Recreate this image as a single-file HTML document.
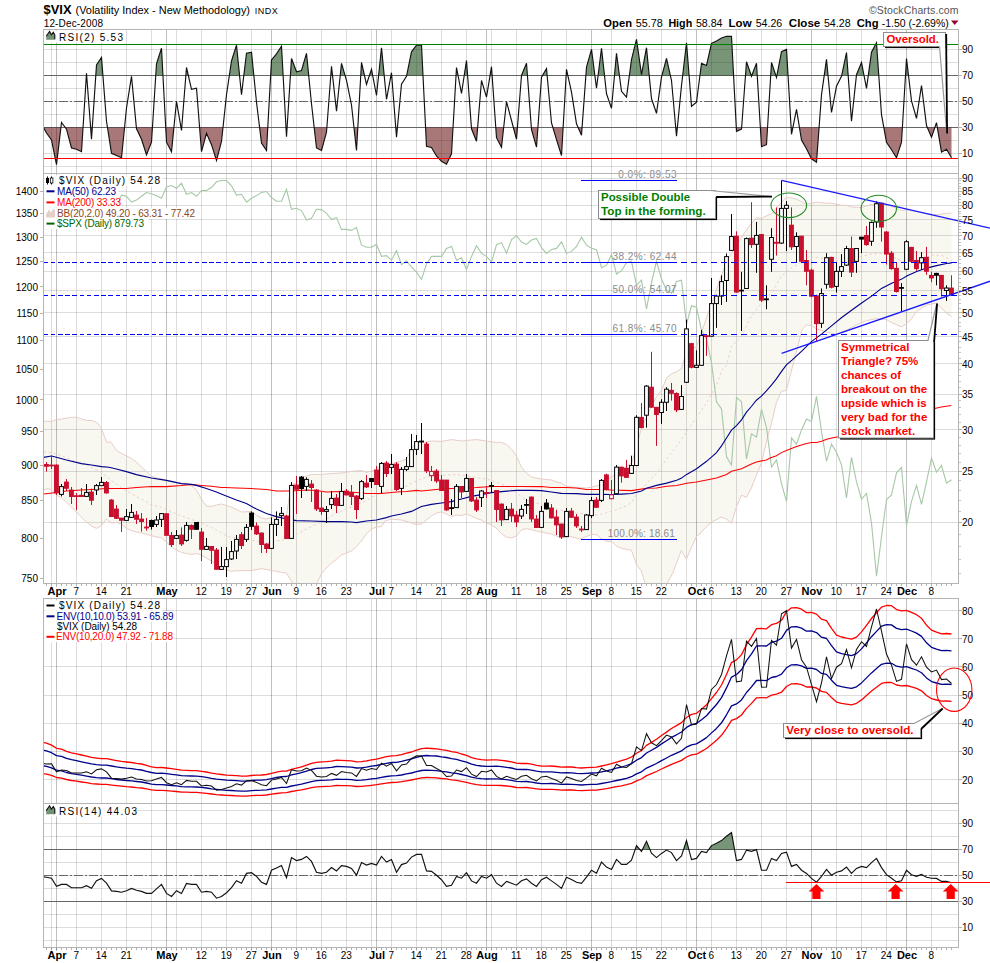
<!DOCTYPE html><html><head><meta charset="utf-8"><title>$VIX</title><style>html,body{margin:0;padding:0;background:#fff}svg{display:block}</style></head><body><svg width="990" height="963" viewBox="0 0 990 963" font-family="Liberation Sans, sans-serif">
<rect width="990" height="963" fill="#fff"/>
<defs>
<clipPath id="c1"><rect x="43.5" y="29.5" width="915.0" height="144.0"/></clipPath>
<clipPath id="c2"><rect x="43.5" y="173.5" width="915.0" height="410.0"/></clipPath>
<clipPath id="c3"><rect x="43.5" y="598.5" width="915.0" height="205.0"/></clipPath>
<clipPath id="c4"><rect x="43.5" y="803.5" width="915.0" height="144.0"/></clipPath>
</defs>
<text x="43.5" y="13.9" font-size="13" font-weight="bold" textLength="28" lengthAdjust="spacingAndGlyphs">$VIX</text>
<text x="75.5" y="13.9" font-size="11" textLength="174.5" lengthAdjust="spacingAndGlyphs">(Volatility Index - New Methodology)</text>
<text x="254.8" y="13.9" font-size="9" textLength="23" lengthAdjust="spacing">INDX</text>
<text x="43.7" y="27" font-size="10" textLength="59.3" lengthAdjust="spacing">12-Dec-2008</text>
<text x="869" y="14" font-size="10.5" fill="#555" textLength="89.5" lengthAdjust="spacing">&#169;StockCharts.com</text>
<text x="603.3" y="27" font-size="11" font-weight="bold" textLength="28.7" lengthAdjust="spacingAndGlyphs">Open</text>
<text x="635.7" y="27" font-size="11"  textLength="27" lengthAdjust="spacingAndGlyphs">55.78</text>
<text x="668.4" y="27" font-size="11" font-weight="bold" textLength="23.8" lengthAdjust="spacingAndGlyphs">High</text>
<text x="695.9" y="27" font-size="11"  textLength="26.6" lengthAdjust="spacingAndGlyphs">58.84</text>
<text x="728.6" y="27" font-size="11" font-weight="bold" textLength="23" lengthAdjust="spacingAndGlyphs">Low</text>
<text x="755.7" y="27" font-size="11"  textLength="26.6" lengthAdjust="spacingAndGlyphs">54.26</text>
<text x="788.8" y="27" font-size="11" font-weight="bold" textLength="31.5" lengthAdjust="spacingAndGlyphs">Close</text>
<text x="823.9" y="27" font-size="11"  textLength="26.7" lengthAdjust="spacingAndGlyphs">54.28</text>
<text x="856.7" y="27" font-size="11" font-weight="bold" textLength="21.8" lengthAdjust="spacingAndGlyphs">Chg</text>
<text x="881.7" y="27" font-size="11"  textLength="67.1" lengthAdjust="spacingAndGlyphs">-1.50 (-2.69%)</text>
<polygon points="951,20.5 958.5,20.5 954.7,25" fill="#990033"/>
<g shape-rendering="crispEdges" stroke-width="1"><line x1="51.5" x2="51.5" y1="29.5" y2="173.5" stroke="rgba(0,0,0,0.135)"/><line x1="76.5" x2="76.5" y1="29.5" y2="173.5" stroke="rgba(0,0,0,0.135)"/><line x1="101.5" x2="101.5" y1="29.5" y2="173.5" stroke="rgba(0,0,0,0.135)"/><line x1="126.5" x2="126.5" y1="29.5" y2="173.5" stroke="rgba(0,0,0,0.135)"/><line x1="151.5" x2="151.5" y1="29.5" y2="173.5" stroke="rgba(0,0,0,0.135)"/><line x1="176.5" x2="176.5" y1="29.5" y2="173.5" stroke="rgba(0,0,0,0.135)"/><line x1="201.5" x2="201.5" y1="29.5" y2="173.5" stroke="rgba(0,0,0,0.135)"/><line x1="226.5" x2="226.5" y1="29.5" y2="173.5" stroke="rgba(0,0,0,0.135)"/><line x1="251.5" x2="251.5" y1="29.5" y2="173.5" stroke="rgba(0,0,0,0.135)"/><line x1="296.5" x2="296.5" y1="29.5" y2="173.5" stroke="rgba(0,0,0,0.135)"/><line x1="321.5" x2="321.5" y1="29.5" y2="173.5" stroke="rgba(0,0,0,0.135)"/><line x1="346.5" x2="346.5" y1="29.5" y2="173.5" stroke="rgba(0,0,0,0.135)"/><line x1="371.5" x2="371.5" y1="29.5" y2="173.5" stroke="rgba(0,0,0,0.135)"/><line x1="391.5" x2="391.5" y1="29.5" y2="173.5" stroke="rgba(0,0,0,0.135)"/><line x1="416.5" x2="416.5" y1="29.5" y2="173.5" stroke="rgba(0,0,0,0.135)"/><line x1="441.5" x2="441.5" y1="29.5" y2="173.5" stroke="rgba(0,0,0,0.135)"/><line x1="466.5" x2="466.5" y1="29.5" y2="173.5" stroke="rgba(0,0,0,0.135)"/><line x1="491.5" x2="491.5" y1="29.5" y2="173.5" stroke="rgba(0,0,0,0.135)"/><line x1="516.5" x2="516.5" y1="29.5" y2="173.5" stroke="rgba(0,0,0,0.135)"/><line x1="541.5" x2="541.5" y1="29.5" y2="173.5" stroke="rgba(0,0,0,0.135)"/><line x1="566.5" x2="566.5" y1="29.5" y2="173.5" stroke="rgba(0,0,0,0.135)"/><line x1="611.5" x2="611.5" y1="29.5" y2="173.5" stroke="rgba(0,0,0,0.135)"/><line x1="636.5" x2="636.5" y1="29.5" y2="173.5" stroke="rgba(0,0,0,0.135)"/><line x1="661.5" x2="661.5" y1="29.5" y2="173.5" stroke="rgba(0,0,0,0.135)"/><line x1="686.5" x2="686.5" y1="29.5" y2="173.5" stroke="rgba(0,0,0,0.135)"/><line x1="711.5" x2="711.5" y1="29.5" y2="173.5" stroke="rgba(0,0,0,0.135)"/><line x1="736.5" x2="736.5" y1="29.5" y2="173.5" stroke="rgba(0,0,0,0.135)"/><line x1="761.5" x2="761.5" y1="29.5" y2="173.5" stroke="rgba(0,0,0,0.135)"/><line x1="786.5" x2="786.5" y1="29.5" y2="173.5" stroke="rgba(0,0,0,0.135)"/><line x1="836.5" x2="836.5" y1="29.5" y2="173.5" stroke="rgba(0,0,0,0.135)"/><line x1="861.5" x2="861.5" y1="29.5" y2="173.5" stroke="rgba(0,0,0,0.135)"/><line x1="886.5" x2="886.5" y1="29.5" y2="173.5" stroke="rgba(0,0,0,0.135)"/><line x1="931.5" x2="931.5" y1="29.5" y2="173.5" stroke="rgba(0,0,0,0.135)"/><line x1="56.5" x2="56.5" y1="29.5" y2="173.5" stroke="rgba(0,0,0,0.25)"/><line x1="166.5" x2="166.5" y1="29.5" y2="173.5" stroke="rgba(0,0,0,0.25)"/><line x1="271.5" x2="271.5" y1="29.5" y2="173.5" stroke="rgba(0,0,0,0.25)"/><line x1="376.5" x2="376.5" y1="29.5" y2="173.5" stroke="rgba(0,0,0,0.25)"/><line x1="486.5" x2="486.5" y1="29.5" y2="173.5" stroke="rgba(0,0,0,0.25)"/><line x1="591.5" x2="591.5" y1="29.5" y2="173.5" stroke="rgba(0,0,0,0.25)"/><line x1="696.5" x2="696.5" y1="29.5" y2="173.5" stroke="rgba(0,0,0,0.25)"/><line x1="811.5" x2="811.5" y1="29.5" y2="173.5" stroke="rgba(0,0,0,0.25)"/><line x1="906.5" x2="906.5" y1="29.5" y2="173.5" stroke="rgba(0,0,0,0.25)"/></g>
<g shape-rendering="crispEdges" stroke-width="1" stroke="rgba(0,0,0,0.135)"><line x1="43.5" x2="958.5" y1="166.5" y2="166.5"/><line x1="43.5" x2="958.5" y1="153.5" y2="153.5"/><line x1="43.5" x2="958.5" y1="140.5" y2="140.5"/><line x1="43.5" x2="958.5" y1="127.5" y2="127.5"/><line x1="43.5" x2="958.5" y1="114.5" y2="114.5"/><line x1="43.5" x2="958.5" y1="101.5" y2="101.5"/><line x1="43.5" x2="958.5" y1="88.5" y2="88.5"/><line x1="43.5" x2="958.5" y1="75.5" y2="75.5"/><line x1="43.5" x2="958.5" y1="62.5" y2="62.5"/><line x1="43.5" x2="958.5" y1="49.5" y2="49.5"/></g>
<g shape-rendering="crispEdges" stroke-width="1" stroke="#666"><line x1="43.5" x2="958.5" y1="75.5" y2="75.5"/><line x1="43.5" x2="958.5" y1="127.5" y2="127.5"/></g>
<line x1="43.5" x2="958.5" y1="101.5" y2="101.5" stroke="#666" stroke-dasharray="9 2 2 2" shape-rendering="crispEdges"/>
<g clip-path="url(#c1)"><path d="M86.4 75.5 L86.5 73.3 L86.7 75.5Z M95.8 75.5 L96.5 65 L101.5 57.5 L102.9 75.5Z M155.8 75.5 L156.5 63.8 L161.5 48.3 L162.9 75.5Z M185.9 75.5 L186.5 67.5 L188.3 75.5Z M229.3 75.5 L231.5 61 L236.5 45.2 L239.6 75.5Z M243.8 75.5 L246.5 53.3 L251.5 52.3 L253.8 75.5Z M270.6 75.5 L271.5 60 L276.5 53.8 L281.5 46.3 L283.1 75.5Z M290.4 75.5 L291.5 58.5 L296.5 71.7 L301.5 70.5 L306.5 53.3 L308.7 75.5Z M330.8 75.5 L331.5 66.3 L332.5 75.5Z M340.2 75.5 L341.5 63.3 L345 75.5Z M360.8 75.5 L361.5 62.5 L364.5 75.5Z M369.4 75.5 L371.5 69.3 L372.7 75.5Z M378.6 75.5 L381.5 47.7 L384.2 75.5Z M391 75.5 L391.5 72.7 L391.7 75.5Z M406.7 75.5 L411.5 51.8 L416.5 45.2 L421.5 45.2 L423 75.5Z M456 75.5 L456.5 67.5 L458 75.5Z M464.2 75.5 L466.5 60.5 L467.6 75.5Z M490.1 75.5 L491.5 66.7 L492.1 75.5Z M521.5 75.5 L526.5 63.3 L527.4 75.5Z M542.5 75.5 L546.5 68.5 L547.1 75.5Z M566.1 75.5 L566.5 69.3 L567.9 75.5Z M585.9 75.5 L586.5 67.2 L591.5 49.3 L594.9 75.5Z M598.1 75.5 L601.5 48.3 L604.5 75.5Z M614.5 75.5 L616.5 53.3 L619.4 75.5Z M629.4 75.5 L631.5 59.7 L636.5 39.3 L641.5 74.7 L646.5 47.7 L649.2 75.5Z M661.9 75.5 L666.5 58.5 L670.4 75.5Z M682.7 75.5 L686.5 42.7 L689.1 75.5Z M699.9 75.5 L701.5 63.3 L706.5 65.5 L711.5 43.3 L716.5 41 L721.5 38 L726.5 36.3 L731.5 36.3 L733.6 75.5Z M745.5 75.5 L746.5 61.7 L751.2 75.5Z M751.8 75.5 L756.5 63.3 L757.2 75.5Z M770.7 75.5 L771.5 62.5 L775.8 75.5Z M776.9 75.5 L781.5 51.7 L786.5 49.3 L788 75.5Z M824.2 75.5 L826.5 59.3 L828 75.5Z M841.7 75.5 L846.5 52.5 L848.2 75.5Z M856.4 75.5 L856.5 74.7 L861.5 62.5 L864 75.5Z M868.3 75.5 L871.5 52.2 L876.5 42.7 L878.8 75.5Z M905.5 75.5 L906.5 58.5 L908.5 75.5Z " fill="rgba(0,55,0,0.53)"/></g>
<g clip-path="url(#c1)"><path d="M43.5 127.5 L46.5 133 L51.5 140 L56.5 164.7 L60.9 127.5Z M65.2 127.5 L66.5 129.2 L71.5 148 L76.5 149.3 L81.5 151.7 L83 127.5Z M90.6 127.5 L91.5 139.3 L92.3 127.5Z M107.5 127.5 L111.5 153.3 L116.5 155.5 L121.5 157.7 L124.5 127.5Z M136.4 127.5 L136.5 128.8 L141.5 139.3 L146.5 154.7 L151.5 142.2 L152.4 127.5Z M165.7 127.5 L166.5 142.2 L171.5 151.7 L173.9 127.5Z M181 127.5 L181.5 130.5 L181.7 127.5Z M199.6 127.5 L201.5 151.7 L206.5 133.3 L211.5 144.7 L216.5 160.5 L221.5 141.3 L223 127.5Z M259.6 127.5 L261.5 143 L266.5 150.5 L267.8 127.5Z M286 127.5 L286.5 136.7 L287.1 127.5Z M314.2 127.5 L316.5 148 L321.5 150.5 L326.5 132.2 L326.9 127.5Z M354 127.5 L356.5 150.5 L357.8 127.5Z M395.8 127.5 L396.5 137.2 L397.4 127.5Z M425.6 127.5 L426.5 146.3 L431.5 147.5 L436.5 156 L441.5 161.3 L446.5 164.3 L451.5 153.8 L453 127.5Z M471.4 127.5 L471.5 128.8 L476.5 141.3 L477.6 127.5Z M495.8 127.5 L496.5 137.7 L501.5 147.2 L503.7 127.5Z M513.4 127.5 L516.5 139.3 L517.4 127.5Z M531.3 127.5 L531.5 129.7 L536.5 147.2 L537.9 127.5Z M552.9 127.5 L556.5 139.7 L561.5 155.5 L563.1 127.5Z M578.1 127.5 L581.5 135.2 L582.1 127.5Z M675.7 127.5 L676.5 136.3 L677.4 127.5Z M736.3 127.5 L736.5 131.3 L741.5 129.2 L741.6 127.5Z M760.4 127.5 L761.5 146.7 L766.5 144.7 L767.5 127.5Z M791.1 127.5 L791.5 134.3 L792.9 127.5Z M799.5 127.5 L801.5 140 L806.5 148.8 L811.5 158.8 L816.5 162.2 L819.1 127.5Z M883.8 127.5 L886.5 142.2 L891.5 149.7 L896.5 157.7 L901.5 142.2 L902.4 127.5Z M927.4 127.5 L931.5 137.2 L934.8 127.5Z M937.3 127.5 L941.5 152.2 L946.5 149.3 L951.5 157.7 L951.5 127.5Z " fill="rgba(90,0,0,0.53)"/></g>
<g clip-path="url(#c1)"><polyline points="43.5,127.5 46.5,133 51.5,140 56.5,164.7 61.5,122.5 66.5,129.2 71.5,148 76.5,149.3 81.5,151.7 86.5,73.3 91.5,139.3 96.5,65 101.5,57.5 106.5,121.3 111.5,153.3 116.5,155.5 121.5,157.7 126.5,108 131.5,76.3 136.5,128.8 141.5,139.3 146.5,154.7 151.5,142.2 156.5,63.8 161.5,48.3 166.5,142.2 171.5,151.7 176.5,101.3 181.5,130.5 186.5,67.5 191.5,89.3 196.5,88.3 201.5,151.7 206.5,133.3 211.5,144.7 216.5,160.5 221.5,141.3 226.5,94.7 231.5,61 236.5,45.2 241.5,94.7 246.5,53.3 251.5,52.3 256.5,102.2 261.5,143 266.5,150.5 271.5,60 276.5,53.8 281.5,46.3 286.5,136.7 291.5,58.5 296.5,71.7 301.5,70.5 306.5,53.3 311.5,103.8 316.5,148 321.5,150.5 326.5,132.2 331.5,66.3 336.5,111.3 341.5,63.3 346.5,80.5 351.5,105 356.5,150.5 361.5,62.5 366.5,84.3 371.5,69.3 376.5,95.5 381.5,47.7 386.5,99.3 391.5,72.7 396.5,137.2 401.5,84.3 406.5,76.3 411.5,51.8 416.5,45.2 421.5,45.2 426.5,146.3 431.5,147.5 436.5,156 441.5,161.3 446.5,164.3 451.5,153.8 456.5,67.5 461.5,93.3 466.5,60.5 471.5,128.8 476.5,141.3 481.5,80.5 486.5,97.2 491.5,66.7 496.5,137.7 501.5,147.2 506.5,101.7 511.5,120.5 516.5,139.3 521.5,75.5 526.5,63.3 531.5,129.7 536.5,147.2 541.5,77.2 546.5,68.5 551.5,123 556.5,139.7 561.5,155.5 566.5,69.3 571.5,92.2 576.5,123.8 581.5,135.2 586.5,67.2 591.5,49.3 596.5,88.3 601.5,48.3 606.5,93.8 611.5,108.3 616.5,53.3 621.5,91.3 626.5,97.2 631.5,59.7 636.5,39.3 641.5,74.7 646.5,47.7 651.5,98.8 656.5,113.3 661.5,77.2 666.5,58.5 671.5,80.5 676.5,136.3 681.5,85.5 686.5,42.7 691.5,106.3 696.5,102.2 701.5,63.3 706.5,65.5 711.5,43.3 716.5,41 721.5,38 726.5,36.3 731.5,36.3 736.5,131.3 741.5,129.2 746.5,61.7 751.5,76.3 756.5,63.3 761.5,146.7 766.5,144.7 771.5,62.5 776.5,77.5 781.5,51.7 786.5,49.3 791.5,134.3 796.5,109.3 801.5,140 806.5,148.8 811.5,158.8 816.5,162.2 821.5,94.7 826.5,59.3 831.5,112.5 836.5,86.3 841.5,76.3 846.5,52.5 851.5,121.3 856.5,74.7 861.5,62.5 866.5,88.3 871.5,52.2 876.5,42.7 881.5,114.7 886.5,142.2 891.5,149.7 896.5,157.7 901.5,142.2 906.5,58.5 911.5,100.8 916.5,118.3 921.5,85.5 926.5,125.5 931.5,137.2 936.5,122.7 941.5,152.2 946.5,149.3 951.5,157.7" fill="none" stroke="#111" stroke-width="1.15" stroke-linejoin="miter"/></g>
<line x1="43.5" x2="958.5" y1="44.5" y2="44.5" stroke="#008000" stroke-width="1" shape-rendering="crispEdges"/>
<line x1="43.5" x2="958.5" y1="158.5" y2="158.5" stroke="#ff0000" stroke-width="1" shape-rendering="crispEdges"/>
<rect x="43.5" y="29.5" width="915.0" height="144.0" fill="none" stroke="#b4b4b4" stroke-width="1" shape-rendering="crispEdges"/>
<line x1="958.5" x2="961.5" y1="49.5" y2="49.5" stroke="#b4b4b4" shape-rendering="crispEdges"/>
<text x="962" y="53.3" font-size="10" fill="#000">90</text>
<line x1="958.5" x2="961.5" y1="75.5" y2="75.5" stroke="#b4b4b4" shape-rendering="crispEdges"/>
<text x="962" y="79.2" font-size="10" fill="#000">70</text>
<line x1="958.5" x2="961.5" y1="101.5" y2="101.5" stroke="#b4b4b4" shape-rendering="crispEdges"/>
<text x="962" y="105" font-size="10" fill="#000">50</text>
<line x1="958.5" x2="961.5" y1="127.5" y2="127.5" stroke="#b4b4b4" shape-rendering="crispEdges"/>
<text x="962" y="131.1" font-size="10" fill="#000">30</text>
<line x1="958.5" x2="961.5" y1="153.5" y2="153.5" stroke="#b4b4b4" shape-rendering="crispEdges"/>
<text x="962" y="156.9" font-size="10" fill="#000">10</text>
<rect x="44.5" y="30.5" width="80" height="12" fill="#fff"/>
<path d="M46.2 39.8 l0 -3.6 l3.4 -4.8 l1.7 3.4 l2 -2.6 l1.5 2.6 l0 5z" fill="rgba(0,55,0,0.55)"/><path d="M46.2 36.199999999999996 l3.4 -4.8 l1.7 3.4 l2 -2.6 l1.5 2.6 l0 4.5" fill="none" stroke="#111" stroke-width="1.1"/>
<text x="59" y="40.5" font-size="10" textLength="64" lengthAdjust="spacing">RSI(2) 5.53</text>
<g clip-path="url(#c2)"><polygon points="43.6,421.1 51.1,421.5 56.6,419.5 61.6,419.1 66.7,418.1 71.7,417.3 76.8,417.3 81.8,419.1 86.9,420.5 91.9,420.5 97,422.5 101,427.6 106.7,442.1 111.1,442.3 116.4,450.4 121.2,453.4 126.5,455.9 131.3,458.5 136.4,461.9 141.4,467 146.5,471.4 151.1,476.1 156.2,477.7 165.3,479.7 176.4,482.4 186.4,484 191.4,485.6 196.4,490 201.4,499 206.4,506 211.4,506.4 216.4,505 221.4,504 225,505 231.4,507 241.4,512 251.4,511.4 256.4,515 261.4,518 266.4,519 271.4,517.4 276.4,516 281.4,516 286.4,516 291,485 296.4,483 301.4,478 311.4,474.4 321.4,474.4 331.4,473.6 341.4,473 351.4,471.4 361.4,470.6 366.4,472.4 371.4,471 376.4,469.4 381.4,464 391.4,463.6 401.4,461 406.4,459 411.4,449 416.4,442 424,442.4 431.4,441 441.4,441.4 451.4,439.6 461.4,441 471.4,440 476.4,439.6 486.4,441 496.4,442.4 501.4,442.4 506.4,444.4 511.4,449 516.4,456 521.4,467 526.4,473 531.4,477 541.4,479 551.4,480 556.4,482 561.4,483 566.4,486.4 576.4,487.4 586.4,488 596.4,486 601.4,484 616.6,473.4 631.6,463 636.6,446.3 641.5,427.6 646.5,417.3 651.5,405.8 656.5,396.5 661.5,390.3 666.7,377.8 671.7,373.6 676.7,371.6 681.6,368.4 686.6,350.8 696.6,346.6 711.6,303 726.5,261.4 736.5,244.8 749,226.1 756.4,217.8 761.4,218.2 771.6,213.6 781.6,202.2 786.6,197 796.5,199.1 801.5,201.6 806.5,204.3 816.5,202.2 826.4,203.2 831.5,203.2 836.4,204.3 841.7,205.3 846.6,205.3 851.6,207 856.6,207.4 861.6,207.4 871.6,204.3 881.5,202.2 891.7,206.4 901.7,210.5 906.7,209.5 916.7,211.6 926.6,213.6 936.6,214.7 946.6,213.2 951.6,213.2 951.6,316.5 946.6,313.4 941.6,308.2 936.6,303 926.6,305 916.7,311.3 911.7,318.6 906.7,323.7 901.7,326.9 891.7,322.7 886.5,319.6 876.6,318.6 866.6,320.6 856.6,324.8 846.6,330 836.7,334.1 826.5,332.1 816.5,328.9 811.7,325.8 806.5,324.8 802,330 786.4,390.3 781.4,391.3 776.4,402.7 771.4,423.5 766.4,442.2 761.4,463 756.4,475.4 751.4,487.9 746.5,497.3 741.5,495.2 736.5,506.6 731.5,523.2 726.5,519.1 721.5,517 711.3,522.2 703,530.1 700,534 696.5,536.2 686.3,559.2 681.2,550.6 673.1,572.2 667.5,582.8 662,596 656,602 650,596 644.9,582.8 641.3,570.8 636.4,564.5 631.4,550.3 622.2,548.5 616.6,546.1 611.6,541.4 606.7,541.4 601,538.3 596.8,534.8 591.8,534.3 585.5,536.9 579.8,539 569.9,536.2 561.4,538 556.4,536 551.4,534 546.4,533 541.4,532 536.4,531 531.4,529.6 526.4,528.6 521.4,530 516.4,536 511.4,538 506.4,537 501.4,533.6 496.4,528 491.4,525 486.4,523 481.4,520 476.4,518.4 471.4,516 466.4,514 461.4,515.6 456.4,515 451.4,516.6 446.4,514 441.4,512 436.4,513 431.4,516 426.4,520 421.4,524 416.4,524.6 411.4,523 401.4,520 391.4,519 385,521 381.4,526.6 376.4,527 371.4,529 366.4,534 361.4,541 356.4,546.6 351.4,551 341.4,555 336.4,559.4 331.4,563 326.4,568 321.4,574 315,587 305,591 294,587 291.4,581 286.4,573 281.4,572.4 271.4,570.4 261.4,568.6 251.4,570.6 236.4,570.6 231.4,571.4 225,569.4 221.4,568 216.4,564.4 211.4,561 206.4,558 201.4,555 196.4,553.6 191.4,554.4 186.4,553.6 181.4,552.4 176.4,550 171.4,547 166.4,542 161.4,537.6 156.4,537 151.4,535.6 146.4,534.4 141.4,533 136.4,532 131.4,530.6 126.4,528.4 121.4,524 116.4,522.4 111.4,523 106.4,519 101.4,525.6 96.4,528.4 91.4,526 86.4,522 81.4,517 76.4,512 71.4,507 66.4,502 61.4,498 56.4,495 51.4,490 48,488.6 43.6,490" fill="#f8f7f0"/></g>
<g shape-rendering="crispEdges" stroke-width="1"><line x1="51.5" x2="51.5" y1="173.5" y2="586.5" stroke="rgba(0,0,0,0.135)"/><line x1="76.5" x2="76.5" y1="173.5" y2="586.5" stroke="rgba(0,0,0,0.135)"/><line x1="101.5" x2="101.5" y1="173.5" y2="586.5" stroke="rgba(0,0,0,0.135)"/><line x1="126.5" x2="126.5" y1="173.5" y2="586.5" stroke="rgba(0,0,0,0.135)"/><line x1="151.5" x2="151.5" y1="173.5" y2="586.5" stroke="rgba(0,0,0,0.135)"/><line x1="176.5" x2="176.5" y1="173.5" y2="586.5" stroke="rgba(0,0,0,0.135)"/><line x1="201.5" x2="201.5" y1="173.5" y2="586.5" stroke="rgba(0,0,0,0.135)"/><line x1="226.5" x2="226.5" y1="173.5" y2="586.5" stroke="rgba(0,0,0,0.135)"/><line x1="251.5" x2="251.5" y1="173.5" y2="586.5" stroke="rgba(0,0,0,0.135)"/><line x1="296.5" x2="296.5" y1="173.5" y2="586.5" stroke="rgba(0,0,0,0.135)"/><line x1="321.5" x2="321.5" y1="173.5" y2="586.5" stroke="rgba(0,0,0,0.135)"/><line x1="346.5" x2="346.5" y1="173.5" y2="586.5" stroke="rgba(0,0,0,0.135)"/><line x1="371.5" x2="371.5" y1="173.5" y2="586.5" stroke="rgba(0,0,0,0.135)"/><line x1="391.5" x2="391.5" y1="173.5" y2="586.5" stroke="rgba(0,0,0,0.135)"/><line x1="416.5" x2="416.5" y1="173.5" y2="586.5" stroke="rgba(0,0,0,0.135)"/><line x1="441.5" x2="441.5" y1="173.5" y2="586.5" stroke="rgba(0,0,0,0.135)"/><line x1="466.5" x2="466.5" y1="173.5" y2="586.5" stroke="rgba(0,0,0,0.135)"/><line x1="491.5" x2="491.5" y1="173.5" y2="586.5" stroke="rgba(0,0,0,0.135)"/><line x1="516.5" x2="516.5" y1="173.5" y2="586.5" stroke="rgba(0,0,0,0.135)"/><line x1="541.5" x2="541.5" y1="173.5" y2="586.5" stroke="rgba(0,0,0,0.135)"/><line x1="566.5" x2="566.5" y1="173.5" y2="586.5" stroke="rgba(0,0,0,0.135)"/><line x1="611.5" x2="611.5" y1="173.5" y2="586.5" stroke="rgba(0,0,0,0.135)"/><line x1="636.5" x2="636.5" y1="173.5" y2="586.5" stroke="rgba(0,0,0,0.135)"/><line x1="661.5" x2="661.5" y1="173.5" y2="586.5" stroke="rgba(0,0,0,0.135)"/><line x1="686.5" x2="686.5" y1="173.5" y2="586.5" stroke="rgba(0,0,0,0.135)"/><line x1="711.5" x2="711.5" y1="173.5" y2="586.5" stroke="rgba(0,0,0,0.135)"/><line x1="736.5" x2="736.5" y1="173.5" y2="586.5" stroke="rgba(0,0,0,0.135)"/><line x1="761.5" x2="761.5" y1="173.5" y2="586.5" stroke="rgba(0,0,0,0.135)"/><line x1="786.5" x2="786.5" y1="173.5" y2="586.5" stroke="rgba(0,0,0,0.135)"/><line x1="836.5" x2="836.5" y1="173.5" y2="586.5" stroke="rgba(0,0,0,0.135)"/><line x1="861.5" x2="861.5" y1="173.5" y2="586.5" stroke="rgba(0,0,0,0.135)"/><line x1="886.5" x2="886.5" y1="173.5" y2="586.5" stroke="rgba(0,0,0,0.135)"/><line x1="931.5" x2="931.5" y1="173.5" y2="586.5" stroke="rgba(0,0,0,0.135)"/><line x1="56.5" x2="56.5" y1="173.5" y2="586.5" stroke="rgba(0,0,0,0.25)"/><line x1="166.5" x2="166.5" y1="173.5" y2="586.5" stroke="rgba(0,0,0,0.25)"/><line x1="271.5" x2="271.5" y1="173.5" y2="586.5" stroke="rgba(0,0,0,0.25)"/><line x1="376.5" x2="376.5" y1="173.5" y2="586.5" stroke="rgba(0,0,0,0.25)"/><line x1="486.5" x2="486.5" y1="173.5" y2="586.5" stroke="rgba(0,0,0,0.25)"/><line x1="591.5" x2="591.5" y1="173.5" y2="586.5" stroke="rgba(0,0,0,0.25)"/><line x1="696.5" x2="696.5" y1="173.5" y2="586.5" stroke="rgba(0,0,0,0.25)"/><line x1="811.5" x2="811.5" y1="173.5" y2="586.5" stroke="rgba(0,0,0,0.25)"/><line x1="906.5" x2="906.5" y1="173.5" y2="586.5" stroke="rgba(0,0,0,0.25)"/></g>
<g shape-rendering="crispEdges" stroke-width="1" stroke="rgba(0,0,0,0.135)"><line x1="43.5" x2="958.5" y1="522.5" y2="522.5"/><line x1="43.5" x2="958.5" y1="471.5" y2="471.5"/><line x1="43.5" x2="958.5" y1="429.5" y2="429.5"/><line x1="43.5" x2="958.5" y1="394.5" y2="394.5"/><line x1="43.5" x2="958.5" y1="363.5" y2="363.5"/><line x1="43.5" x2="958.5" y1="336.5" y2="336.5"/><line x1="43.5" x2="958.5" y1="312.5" y2="312.5"/><line x1="43.5" x2="958.5" y1="290.5" y2="290.5"/><line x1="43.5" x2="958.5" y1="271.5" y2="271.5"/><line x1="43.5" x2="958.5" y1="252.5" y2="252.5"/><line x1="43.5" x2="958.5" y1="235.5" y2="235.5"/><line x1="43.5" x2="958.5" y1="219.5" y2="219.5"/><line x1="43.5" x2="958.5" y1="205.5" y2="205.5"/><line x1="43.5" x2="958.5" y1="191.5" y2="191.5"/><line x1="43.5" x2="958.5" y1="178.5" y2="178.5"/></g>
<g clip-path="url(#c2)">
<polyline points="43.6,421.1 51.1,421.5 56.6,419.5 61.6,419.1 66.7,418.1 71.7,417.3 76.8,417.3 81.8,419.1 86.9,420.5 91.9,420.5 97,422.5 101,427.6 106.7,442.1 111.1,442.3 116.4,450.4 121.2,453.4 126.5,455.9 131.3,458.5 136.4,461.9 141.4,467 146.5,471.4 151.1,476.1 156.2,477.7 165.3,479.7 176.4,482.4 186.4,484 191.4,485.6 196.4,490 201.4,499 206.4,506 211.4,506.4 216.4,505 221.4,504 225,505 231.4,507 241.4,512 251.4,511.4 256.4,515 261.4,518 266.4,519 271.4,517.4 276.4,516 281.4,516 286.4,516 291,485 296.4,483 301.4,478 311.4,474.4 321.4,474.4 331.4,473.6 341.4,473 351.4,471.4 361.4,470.6 366.4,472.4 371.4,471 376.4,469.4 381.4,464 391.4,463.6 401.4,461 406.4,459 411.4,449 416.4,442 424,442.4 431.4,441 441.4,441.4 451.4,439.6 461.4,441 471.4,440 476.4,439.6 486.4,441 496.4,442.4 501.4,442.4 506.4,444.4 511.4,449 516.4,456 521.4,467 526.4,473 531.4,477 541.4,479 551.4,480 556.4,482 561.4,483 566.4,486.4 576.4,487.4 586.4,488 596.4,486 601.4,484 616.6,473.4 631.6,463 636.6,446.3 641.5,427.6 646.5,417.3 651.5,405.8 656.5,396.5 661.5,390.3 666.7,377.8 671.7,373.6 676.7,371.6 681.6,368.4 686.6,350.8 696.6,346.6 711.6,303 726.5,261.4 736.5,244.8 749,226.1 756.4,217.8 761.4,218.2 771.6,213.6 781.6,202.2 786.6,197 796.5,199.1 801.5,201.6 806.5,204.3 816.5,202.2 826.4,203.2 831.5,203.2 836.4,204.3 841.7,205.3 846.6,205.3 851.6,207 856.6,207.4 861.6,207.4 871.6,204.3 881.5,202.2 891.7,206.4 901.7,210.5 906.7,209.5 916.7,211.6 926.6,213.6 936.6,214.7 946.6,213.2 951.6,213.2" fill="none" stroke="#e8cdc7" stroke-width="1"/>
<polyline points="43.6,490 48,488.6 51.4,490 56.4,495 61.4,498 66.4,502 71.4,507 76.4,512 81.4,517 86.4,522 91.4,526 96.4,528.4 101.4,525.6 106.4,519 111.4,523 116.4,522.4 121.4,524 126.4,528.4 131.4,530.6 136.4,532 141.4,533 146.4,534.4 151.4,535.6 156.4,537 161.4,537.6 166.4,542 171.4,547 176.4,550 181.4,552.4 186.4,553.6 191.4,554.4 196.4,553.6 201.4,555 206.4,558 211.4,561 216.4,564.4 221.4,568 225,569.4 231.4,571.4 236.4,570.6 251.4,570.6 261.4,568.6 271.4,570.4 281.4,572.4 286.4,573 291.4,581 294,587 305,591 315,587 321.4,574 326.4,568 331.4,563 336.4,559.4 341.4,555 351.4,551 356.4,546.6 361.4,541 366.4,534 371.4,529 376.4,527 381.4,526.6 385,521 391.4,519 401.4,520 411.4,523 416.4,524.6 421.4,524 426.4,520 431.4,516 436.4,513 441.4,512 446.4,514 451.4,516.6 456.4,515 461.4,515.6 466.4,514 471.4,516 476.4,518.4 481.4,520 486.4,523 491.4,525 496.4,528 501.4,533.6 506.4,537 511.4,538 516.4,536 521.4,530 526.4,528.6 531.4,529.6 536.4,531 541.4,532 546.4,533 551.4,534 556.4,536 561.4,538 569.9,536.2 579.8,539 585.5,536.9 591.8,534.3 596.8,534.8 601,538.3 606.7,541.4 611.6,541.4 616.6,546.1 622.2,548.5 631.4,550.3 636.4,564.5 641.3,570.8 644.9,582.8 650,596 656,602 662,596 667.5,582.8 673.1,572.2 681.2,550.6 686.3,559.2 696.5,536.2 700,534 703,530.1 711.3,522.2 721.5,517 726.5,519.1 731.5,523.2 736.5,506.6 741.5,495.2 746.5,497.3 751.4,487.9 756.4,475.4 761.4,463 766.4,442.2 771.4,423.5 776.4,402.7 781.4,391.3 786.4,390.3 802,330 806.5,324.8 811.7,325.8 816.5,328.9 826.5,332.1 836.7,334.1 846.6,330 856.6,324.8 866.6,320.6 876.6,318.6 886.5,319.6 891.7,322.7 901.7,326.9 906.7,323.7 911.7,318.6 916.7,311.3 926.6,305 936.6,303 941.6,308.2 946.6,313.4 951.6,316.5" fill="none" stroke="#e8cdc7" stroke-width="1"/>
<polyline points="43.6,452 51.4,452.4 61.4,455.6 71.4,460 81.4,463 91.4,467 101.4,472.6 111.4,480.6 121.4,488 131.4,494 141.4,499 151.4,505 161.4,507 171.4,512 181.4,516 191.4,519.4 201.4,523 211.4,527.4 221.4,532.6 225,535 231.4,538 236.4,537 246.4,539.4 256.4,541 266.4,543 276.4,541 286.4,539 296.4,534 306.4,529 316.4,524.4 326.4,519 336.4,513 346.4,509 356.4,505 366.4,500.6 376.4,495 386.4,491 396.4,489 406.4,486 416.4,481 421.4,479 426.4,477 436.4,475.6 446.4,475 456.4,474.6 466.4,475.6 476.4,477.6 486.4,479 496.4,482 506.4,486 516.4,493 526.4,500 536.4,503 546.4,506 556.4,509 566.4,511.6 576.4,513 586.4,514.4 596.4,515 601.4,514 606.4,512.8 616.6,509.7 626.6,505.6 631.6,502.4 636.6,494.1 646.5,483.7 656.5,473.4 666.7,458.8 676.7,446.3 686.6,431.8 696.6,417.3 706.6,402.7 716.5,385.1 721.9,370.1 726.5,365.3 731.5,346.6 741.5,336.2 751.7,315.4 761.6,303 771.6,292.6 781.6,276 791.5,267.6 801.5,262.5 806.5,256.2 816.5,257.3 841.7,261.4 861.6,256.2 871.6,254.1 881.5,253.5 891.7,256.2 901.7,261.4 916.7,261.4 931.6,255.2 941.6,255.2 951.6,260.4" fill="none" stroke="#ecd0cc" stroke-width="1" stroke-dasharray="2.5 2.5"/>
<polyline points="46.5,229 51.5,227 56.5,204.7 61.5,205 66.5,204.6 71.5,204 76.5,203 81.5,206 86.5,211.4 91.5,208.6 96.5,221.5 101.5,223.9 106.5,221 111.5,207.1 116.5,206.7 121.5,195.1 126.5,196.3 131.5,202.1 136.5,200.1 141.5,196.3 146.5,192.5 151.5,193.8 156.5,195.8 161.5,198.3 166.5,187 171.5,185.5 176.5,188.3 181.5,183.3 186.5,194.3 191.5,192.5 196.5,196.3 201.5,190.5 206.5,190.5 211.5,187.5 216.5,181.8 221.5,180.5 226.5,180.5 231.5,185.8 236.5,195.1 241.5,194.3 246.5,202.1 251.5,198.3 256.5,195.6 261.5,192.5 266.5,191.5 271.5,197.6 276.5,201.3 281.5,201.3 286.5,189.3 291.5,209.3 296.5,208.3 301.5,210.6 306.5,220.1 311.5,218.3 316.5,209.3 321.5,209.6 326.5,213.3 331.5,219.3 336.5,217.6 341.5,229.4 346.5,229.4 351.5,230.4 356.5,227.6 361.5,245.2 366.5,247.2 371.5,247.2 376.5,244.4 381.5,256.4 386.5,255.7 391.5,260.2 396.5,250.7 401.5,264.7 406.5,260.7 411.5,267.2 416.5,272.2 421.5,279.5 426.5,263.9 431.5,256.4 436.5,256.4 441.5,256.4 446.5,248.4 451.5,246.4 456.5,260.2 461.5,257.7 466.5,269.5 471.5,256.4 476.5,245.7 481.5,253.4 486.5,256.4 491.5,262.2 496.5,244.7 501.5,242.6 506.5,253.2 511.5,239.6 516.5,235.6 521.5,242.1 526.5,244.4 531.5,240.1 536.5,238.4 541.5,247.7 546.5,253.4 551.5,249.4 556.5,248.4 561.5,241.9 566.5,253.4 571.5,251.4 576.5,246.4 581.5,237.1 586.5,245.2 591.5,248.2 596.5,249.7 601.5,267.7 606.5,265.2 611.5,254.4 616.5,274 621.5,270.7 626.5,262.7 631.5,261.4 636.5,285.2 641.5,280.2 646.5,309 651.5,282.7 656.5,261.4 661.5,279 666.5,290.2 671.5,293.2 676.5,281.5 681.5,280.2 686.5,324.1 691.5,305.8 696.5,307.3 701.5,330.3 706.5,339.1 711.5,362.9 716.5,401.7 721.5,409 726.5,456.7 731.5,465 736.5,397.5 741.5,401.7 746.5,458.8 751.5,433.9 756.5,437 761.5,409.4 766.5,427.6 771.5,467.1 776.5,459.9 781.5,483.7 786.5,501.4 791.5,438 796.5,444.2 801.5,429.9 806.5,419.1 811.5,421.4 816.5,396.3 821.5,431.7 826.5,461.4 831.5,444.2 836.5,452.2 841.5,464.8 846.5,497.9 851.5,457.3 856.5,481.9 861.5,499.1 866.5,493.4 871.5,523.1 876.5,576.3 881.5,536.8 886.5,499.5 891.5,495 896.5,472.8 901.5,467.5 906.5,525.3 911.5,501.4 916.5,485.4 921.5,504.3 926.5,481.9 931.5,458 936.5,472.1 941.5,465.5 946.5,483.1 951.5,479.7" fill="none" stroke="#a6c8a6" stroke-width="1.1"/>
</g>
<g clip-path="url(#c2)">
<polyline points="43.6,494 56.4,492.4 66.4,491 81.4,490 91.4,489.4 106.4,488.6 126.4,488.4 136.4,487.4 151.4,486.6 166.4,486.6 181.4,485.6 191.4,484.6 201.4,485.4 211.4,486.2 221.4,487.4 225,487.4 236.4,488 251.4,488.6 266.4,489.6 276.4,491 291.4,491 306.4,490 316.4,490.6 326.4,492 341.4,491.6 356.4,492.4 366.4,493.4 381.4,493.4 396.4,492 406.4,491.4 416.4,490.4 421.4,491 431.4,490 441.4,489 451.4,488.6 461.4,488 476.4,487.4 491.4,486.4 506.4,486.4 521.4,486.6 541.4,486.6 551.4,487.4 566.4,487.4 576.4,488 586.4,489.4 601.4,489.4 611.6,490 631.6,490.6 646.5,488.3 656.5,487.9 666.7,486.2 676.7,485.4 686.6,483.3 696.6,482.1 706.6,480 716.5,477.9 726.5,474.4 731.5,471.3 741.5,468.8 751.4,464 756.4,461.9 766.4,459.9 770,458 776.4,455.7 781.4,452.6 786.4,450.5 796.5,446.5 806.6,443.6 811.6,442.4 816.6,442.4 821.6,441.3 826.7,439.2 831.7,437.9 838.5,436.7 861.4,429.9 884.2,423 907.1,416.1 934.5,408.4 941.3,407 951.4,405.4" fill="none" stroke="#ff0000" stroke-width="1.05"/>
<polyline points="43.6,457.4 51.4,456 56.4,457.2 66.4,460 81.4,463.6 91.4,465 101.4,466.6 109,467.2 116.4,469 126.4,471.6 136.4,474.6 151.4,478 166.4,480.4 181.4,483.6 191.4,484.4 196.4,485.4 206.4,488.4 216.4,492 225,495.4 236.4,500 246.4,503.4 256.4,509 266.4,513.6 276.4,516.6 286.4,519 296.4,520.6 311.4,521 326.4,521.6 341.4,521.6 351.4,522 356.4,522.6 366.4,521 376.4,520 386.4,517.6 391.4,516 401.4,514 411.4,511.4 416.4,509 421.4,506.4 431.4,504.4 441.4,503 451.4,501.6 461.4,499 471.4,496.4 481.4,494.6 491.4,492.6 501.4,491.6 516.4,490.4 531.4,490.4 541.4,490.6 551.4,492 561.4,493.4 576.4,493.6 586.4,494.4 601.4,494.4 611.6,494.5 621.6,494.1 631.6,493.5 641.5,491 646.5,488.3 656.5,485.4 666.7,483.1 676.7,480.2 681.6,478.1 686.6,474.4 696.6,468.8 706.6,461.3 716.5,452.6 721.5,445.9 726.5,438 731.5,430.1 736.5,425.6 741.5,419.8 746.5,412.1 751.4,406.5 756.4,400.2 761.4,396.1 766.4,390.9 771.4,385.1 776.4,378.8 781.4,371.6 786.4,364.9 792,360.1 802,350.8 811.7,341.4 821.5,334.1 831.5,325.8 841.7,317.5 851.6,310.2 861.6,303 871.6,296.1 881.5,288.4 891.7,283.2 901.7,279.1 906.7,276 916.7,271.4 926.6,268.1 936.6,265.6 946.6,263.5 951.6,262.9" fill="none" stroke="#00008b" stroke-width="1.1"/>
<line x1="46.5" x2="46.5" y1="462" y2="471.6" stroke="#c8102e" stroke-width="1"/><rect x="44" y="464" width="4.9" height="2.8" fill="#c8102e"/><line x1="51.5" x2="51.5" y1="455.6" y2="469" stroke="#c8102e" stroke-width="1"/><rect x="49" y="464.6" width="4.9" height="1.8" fill="#c8102e"/><line x1="56.5" x2="56.5" y1="464.4" y2="495" stroke="#c8102e" stroke-width="1"/><rect x="54" y="464.6" width="4.9" height="28.8" fill="#c8102e"/><line x1="61.5" x2="61.5" y1="484" y2="496.4" stroke="#000" stroke-width="1"/><rect x="59.6" y="486.6" width="3.8" height="7.8" fill="#fff" stroke="#000" stroke-width="1"/><line x1="66.5" x2="66.5" y1="479" y2="491" stroke="#c8102e" stroke-width="1"/><rect x="64" y="481.6" width="4.9" height="7.2" fill="#c8102e"/><line x1="71.5" x2="71.5" y1="487" y2="504" stroke="#c8102e" stroke-width="1"/><rect x="69" y="489.6" width="4.9" height="7.4" fill="#c8102e"/><line x1="76.5" x2="76.5" y1="493" y2="510" stroke="#c8102e" stroke-width="1"/><rect x="74" y="495.2" width="4.9" height="1.8" fill="#c8102e"/><line x1="81.5" x2="81.5" y1="488" y2="497" stroke="#c8102e" stroke-width="1"/><rect x="79" y="494.8" width="4.9" height="2.2" fill="#c8102e"/><line x1="86.5" x2="86.5" y1="484" y2="497" stroke="#000" stroke-width="1"/><rect x="84.6" y="492.4" width="3.8" height="4" fill="#fff" stroke="#000" stroke-width="1"/><line x1="91.5" x2="91.5" y1="488.6" y2="505" stroke="#c8102e" stroke-width="1"/><rect x="89" y="491.6" width="4.9" height="9.2" fill="#c8102e"/><line x1="96.5" x2="96.5" y1="484" y2="495" stroke="#000" stroke-width="1"/><rect x="94.6" y="485.6" width="3.8" height="4.4" fill="#fff" stroke="#000" stroke-width="1"/><line x1="101.5" x2="101.5" y1="477" y2="486" stroke="#000" stroke-width="1"/><rect x="99.6" y="482.4" width="3.8" height="3.2" fill="#fff" stroke="#000" stroke-width="1"/><line x1="106.5" x2="106.5" y1="481" y2="493.6" stroke="#c8102e" stroke-width="1"/><rect x="104" y="482" width="4.9" height="11.4" fill="#c8102e"/><line x1="111.5" x2="111.5" y1="499" y2="517" stroke="#c8102e" stroke-width="1"/><rect x="109" y="499.6" width="4.9" height="17.4" fill="#c8102e"/><line x1="116.5" x2="116.5" y1="505" y2="519" stroke="#c8102e" stroke-width="1"/><rect x="114" y="508.6" width="4.9" height="10.2" fill="#c8102e"/><line x1="121.5" x2="121.5" y1="518" y2="532" stroke="#c8102e" stroke-width="1"/><rect x="119" y="517.6" width="4.9" height="3.2" fill="#c8102e"/><line x1="126.5" x2="126.5" y1="509" y2="521" stroke="#000" stroke-width="1"/><rect x="124.6" y="516.6" width="3.8" height="3.8" fill="#fff" stroke="#000" stroke-width="1"/><line x1="131.5" x2="131.5" y1="504" y2="518" stroke="#000" stroke-width="1"/><rect x="129.6" y="512.4" width="3.8" height="5" fill="#fff" stroke="#000" stroke-width="1"/><line x1="136.5" x2="136.5" y1="511" y2="524" stroke="#c8102e" stroke-width="1"/><rect x="134.1" y="514.6" width="4.9" height="5.2" fill="#c8102e"/><line x1="141.5" x2="141.5" y1="513" y2="531.6" stroke="#c8102e" stroke-width="1"/><rect x="139.1" y="518.6" width="4.9" height="3.4" fill="#c8102e"/><line x1="146.5" x2="146.5" y1="518" y2="530.6" stroke="#c8102e" stroke-width="1"/><rect x="144.1" y="526.6" width="4.9" height="1.8" fill="#c8102e"/><line x1="151.5" x2="151.5" y1="519.6" y2="529.6" stroke="#000" stroke-width="1"/><rect x="149.1" y="520" width="4.9" height="7" fill="#000"/><line x1="156.5" x2="156.5" y1="516" y2="527" stroke="#000" stroke-width="1"/><rect x="154.6" y="520" width="3.8" height="4.4" fill="#fff" stroke="#000" stroke-width="1"/><line x1="161.5" x2="161.5" y1="513" y2="527" stroke="#000" stroke-width="1"/><rect x="159.6" y="513.6" width="3.8" height="5.8" fill="#fff" stroke="#000" stroke-width="1"/><line x1="166.5" x2="166.5" y1="513" y2="536" stroke="#c8102e" stroke-width="1"/><rect x="164.1" y="513.2" width="4.9" height="22.6" fill="#c8102e"/><line x1="171.5" x2="171.5" y1="532" y2="547" stroke="#c8102e" stroke-width="1"/><rect x="169.1" y="535" width="4.9" height="10" fill="#c8102e"/><line x1="176.5" x2="176.5" y1="530" y2="539" stroke="#000" stroke-width="1"/><rect x="174.6" y="535.6" width="3.8" height="2.8" fill="#fff" stroke="#000" stroke-width="1"/><line x1="181.5" x2="181.5" y1="527.4" y2="546" stroke="#c8102e" stroke-width="1"/><rect x="179.1" y="534.6" width="4.9" height="9.8" fill="#c8102e"/><line x1="186.5" x2="186.5" y1="522" y2="541.6" stroke="#000" stroke-width="1"/><rect x="184.6" y="525.4" width="3.8" height="15" fill="#fff" stroke="#000" stroke-width="1"/><line x1="191.5" x2="191.5" y1="524.4" y2="539" stroke="#c8102e" stroke-width="1"/><rect x="189.1" y="525" width="4.9" height="4.8" fill="#c8102e"/><line x1="196.5" x2="196.5" y1="522" y2="530" stroke="#000" stroke-width="1"/><rect x="194.1" y="522" width="4.9" height="7.8" fill="#000"/><line x1="201.5" x2="201.5" y1="528" y2="561" stroke="#c8102e" stroke-width="1"/><rect x="199.1" y="531.6" width="4.9" height="18.2" fill="#c8102e"/><line x1="206.5" x2="206.5" y1="538" y2="550" stroke="#000" stroke-width="1"/><rect x="204.6" y="546.4" width="3.8" height="3" fill="#fff" stroke="#000" stroke-width="1"/><line x1="211.5" x2="211.5" y1="546" y2="564" stroke="#c8102e" stroke-width="1"/><rect x="209.1" y="546" width="4.9" height="4.8" fill="#c8102e"/><line x1="216.5" x2="216.5" y1="548" y2="570" stroke="#c8102e" stroke-width="1"/><rect x="214.1" y="549.6" width="4.9" height="20.2" fill="#c8102e"/><line x1="221.5" x2="221.5" y1="547" y2="570" stroke="#000" stroke-width="1"/><rect x="219.6" y="566.6" width="3.8" height="2.8" fill="#fff" stroke="#000" stroke-width="1"/><line x1="226.5" x2="226.5" y1="547" y2="577" stroke="#000" stroke-width="1"/><rect x="224.6" y="559.6" width="3.8" height="7" fill="#fff" stroke="#000" stroke-width="1"/><line x1="231.5" x2="231.5" y1="541" y2="560" stroke="#000" stroke-width="1"/><rect x="229.6" y="551.6" width="3.8" height="7.4" fill="#fff" stroke="#000" stroke-width="1"/><line x1="236.5" x2="236.5" y1="535" y2="559" stroke="#000" stroke-width="1"/><rect x="234.6" y="539.4" width="3.8" height="11.6" fill="#fff" stroke="#000" stroke-width="1"/><line x1="241.5" x2="241.5" y1="532" y2="549" stroke="#c8102e" stroke-width="1"/><rect x="239.1" y="534.2" width="4.9" height="11.8" fill="#c8102e"/><line x1="246.5" x2="246.5" y1="524" y2="542" stroke="#000" stroke-width="1"/><rect x="244.6" y="527.4" width="3.8" height="12" fill="#fff" stroke="#000" stroke-width="1"/><line x1="251.5" x2="251.5" y1="511.4" y2="530" stroke="#000" stroke-width="1"/><rect x="249.1" y="512.6" width="4.9" height="14.2" fill="#000"/><line x1="256.5" x2="256.5" y1="522.4" y2="535" stroke="#c8102e" stroke-width="1"/><rect x="254.1" y="525.6" width="4.9" height="8.8" fill="#c8102e"/><line x1="261.5" x2="261.5" y1="532.4" y2="553" stroke="#c8102e" stroke-width="1"/><rect x="259.1" y="532.6" width="4.9" height="12.4" fill="#c8102e"/><line x1="266.5" x2="266.5" y1="543" y2="553" stroke="#c8102e" stroke-width="1"/><rect x="264.1" y="543.6" width="4.9" height="5.4" fill="#c8102e"/><line x1="271.5" x2="271.5" y1="517.4" y2="549" stroke="#000" stroke-width="1"/><rect x="269.6" y="524.4" width="3.8" height="24" fill="#fff" stroke="#000" stroke-width="1"/><line x1="276.5" x2="276.5" y1="511.4" y2="536" stroke="#000" stroke-width="1"/><rect x="274.6" y="519.4" width="3.8" height="5" fill="#fff" stroke="#000" stroke-width="1"/><line x1="281.5" x2="281.5" y1="507" y2="526" stroke="#000" stroke-width="1"/><rect x="279.6" y="513.4" width="3.8" height="2.2" fill="#fff" stroke="#000" stroke-width="1"/><line x1="286.5" x2="286.5" y1="515" y2="539" stroke="#c8102e" stroke-width="1"/><rect x="284.1" y="515.6" width="4.9" height="23.4" fill="#c8102e"/><line x1="291.5" x2="291.5" y1="482" y2="539" stroke="#000" stroke-width="1"/><rect x="289.6" y="485.4" width="3.8" height="53" fill="#fff" stroke="#000" stroke-width="1"/><line x1="296.5" x2="296.5" y1="476" y2="514" stroke="#c8102e" stroke-width="1"/><rect x="294.1" y="484.6" width="4.9" height="5.2" fill="#c8102e"/><line x1="301.5" x2="301.5" y1="476" y2="498" stroke="#000" stroke-width="1"/><rect x="299.1" y="476.6" width="4.9" height="12.4" fill="#000"/><line x1="306.5" x2="306.5" y1="477.4" y2="491" stroke="#000" stroke-width="1"/><rect x="304.6" y="479.4" width="3.8" height="7" fill="#fff" stroke="#000" stroke-width="1"/><line x1="311.5" x2="311.5" y1="480" y2="502" stroke="#c8102e" stroke-width="1"/><rect x="309.1" y="483.6" width="4.9" height="4.4" fill="#c8102e"/><line x1="316.5" x2="316.5" y1="489" y2="511" stroke="#c8102e" stroke-width="1"/><rect x="314.1" y="489.6" width="4.9" height="19.8" fill="#c8102e"/><line x1="321.5" x2="321.5" y1="492" y2="515" stroke="#c8102e" stroke-width="1"/><rect x="319.1" y="507.6" width="4.9" height="4.4" fill="#c8102e"/><line x1="326.5" x2="326.5" y1="506" y2="523" stroke="#000" stroke-width="1"/><rect x="324.6" y="509.6" width="3.8" height="1.8" fill="#fff" stroke="#000" stroke-width="1"/><line x1="331.5" x2="331.5" y1="491" y2="509" stroke="#000" stroke-width="1"/><rect x="329.6" y="498.4" width="3.8" height="6.2" fill="#fff" stroke="#000" stroke-width="1"/><line x1="336.5" x2="336.5" y1="494" y2="513" stroke="#c8102e" stroke-width="1"/><rect x="334.1" y="497.6" width="4.9" height="8.4" fill="#c8102e"/><line x1="341.5" x2="341.5" y1="483" y2="506" stroke="#000" stroke-width="1"/><rect x="339.6" y="491.4" width="3.8" height="14" fill="#fff" stroke="#000" stroke-width="1"/><line x1="346.5" x2="346.5" y1="489" y2="495.4" stroke="#c8102e" stroke-width="1"/><rect x="344.1" y="490.6" width="4.9" height="4.8" fill="#c8102e"/><line x1="351.5" x2="351.5" y1="485" y2="505" stroke="#c8102e" stroke-width="1"/><rect x="349.1" y="492" width="4.9" height="5" fill="#c8102e"/><line x1="356.5" x2="356.5" y1="495" y2="519" stroke="#c8102e" stroke-width="1"/><rect x="354.1" y="495.6" width="4.9" height="14.4" fill="#c8102e"/><line x1="361.5" x2="361.5" y1="480" y2="500" stroke="#000" stroke-width="1"/><rect x="359.6" y="481.6" width="3.8" height="17" fill="#fff" stroke="#000" stroke-width="1"/><line x1="366.5" x2="366.5" y1="475" y2="488" stroke="#c8102e" stroke-width="1"/><rect x="364.1" y="482.6" width="4.9" height="4.8" fill="#c8102e"/><line x1="371.5" x2="371.5" y1="478" y2="488" stroke="#000" stroke-width="1"/><rect x="369.1" y="478" width="4.9" height="4" fill="#000"/><line x1="376.5" x2="376.5" y1="466" y2="485" stroke="#c8102e" stroke-width="1"/><rect x="374.1" y="469.6" width="4.9" height="15.4" fill="#c8102e"/><line x1="381.5" x2="381.5" y1="462" y2="493" stroke="#000" stroke-width="1"/><rect x="379.6" y="463.4" width="3.8" height="23" fill="#fff" stroke="#000" stroke-width="1"/><line x1="386.5" x2="386.5" y1="461" y2="477" stroke="#c8102e" stroke-width="1"/><rect x="384.1" y="462.6" width="4.9" height="11.4" fill="#c8102e"/><line x1="391.5" x2="391.5" y1="454" y2="474" stroke="#000" stroke-width="1"/><rect x="389.6" y="464.6" width="3.8" height="2.8" fill="#fff" stroke="#000" stroke-width="1"/><line x1="396.5" x2="396.5" y1="462" y2="491" stroke="#c8102e" stroke-width="1"/><rect x="394.1" y="463.6" width="4.9" height="26.4" fill="#c8102e"/><line x1="401.5" x2="401.5" y1="467" y2="495" stroke="#000" stroke-width="1"/><rect x="399.6" y="469.4" width="3.8" height="19" fill="#fff" stroke="#000" stroke-width="1"/><line x1="406.5" x2="406.5" y1="457" y2="471" stroke="#000" stroke-width="1"/><rect x="404.6" y="466.6" width="3.8" height="2.8" fill="#fff" stroke="#000" stroke-width="1"/><line x1="411.5" x2="411.5" y1="434" y2="467" stroke="#000" stroke-width="1"/><rect x="409.6" y="449.6" width="3.8" height="17" fill="#fff" stroke="#000" stroke-width="1"/><line x1="416.5" x2="416.5" y1="435" y2="455" stroke="#000" stroke-width="1"/><rect x="414.6" y="441.6" width="3.8" height="7.8" fill="#fff" stroke="#000" stroke-width="1"/><line x1="421.5" x2="421.5" y1="423" y2="454" stroke="#000" stroke-width="1"/><rect x="419.1" y="440.6" width="4.9" height="1.8" fill="#000"/><line x1="426.5" x2="426.5" y1="442" y2="473" stroke="#c8102e" stroke-width="1"/><rect x="424.1" y="443.6" width="4.9" height="27.8" fill="#c8102e"/><line x1="431.5" x2="431.5" y1="466" y2="481" stroke="#c8102e" stroke-width="1"/><rect x="429.6" y="471.4" width="3.8" height="4.2" fill="#fff" stroke="#c8102e" stroke-width="1"/><line x1="436.5" x2="436.5" y1="469" y2="483" stroke="#c8102e" stroke-width="1"/><rect x="434.1" y="470.6" width="4.9" height="10.8" fill="#c8102e"/><line x1="441.5" x2="441.5" y1="475" y2="491" stroke="#c8102e" stroke-width="1"/><rect x="439.1" y="479.6" width="4.9" height="11.4" fill="#c8102e"/><line x1="446.5" x2="446.5" y1="480" y2="511" stroke="#c8102e" stroke-width="1"/><rect x="444.1" y="479.6" width="4.9" height="30.8" fill="#c8102e"/><line x1="451.5" x2="451.5" y1="499" y2="515" stroke="#000" stroke-width="1"/><rect x="449.1" y="507.2" width="4.9" height="1.8" fill="#000"/><line x1="456.5" x2="456.5" y1="484" y2="508" stroke="#000" stroke-width="1"/><rect x="454.6" y="486.4" width="3.8" height="21.2" fill="#fff" stroke="#000" stroke-width="1"/><line x1="461.5" x2="461.5" y1="486" y2="498" stroke="#c8102e" stroke-width="1"/><rect x="459.1" y="486" width="4.9" height="6.4" fill="#c8102e"/><line x1="466.5" x2="466.5" y1="474" y2="492" stroke="#000" stroke-width="1"/><rect x="464.6" y="478.4" width="3.8" height="13" fill="#fff" stroke="#000" stroke-width="1"/><line x1="471.5" x2="471.5" y1="478" y2="502" stroke="#c8102e" stroke-width="1"/><rect x="469.1" y="478" width="4.9" height="23.4" fill="#c8102e"/><line x1="476.5" x2="476.5" y1="497" y2="512" stroke="#c8102e" stroke-width="1"/><rect x="474.1" y="499.6" width="4.9" height="10.8" fill="#c8102e"/><line x1="481.5" x2="481.5" y1="490" y2="507" stroke="#000" stroke-width="1"/><rect x="479.6" y="491" width="3.8" height="6.6" fill="#fff" stroke="#000" stroke-width="1"/><line x1="486.5" x2="486.5" y1="486" y2="498" stroke="#c8102e" stroke-width="1"/><rect x="484.1" y="492" width="4.9" height="1.8" fill="#c8102e"/><line x1="491.5" x2="491.5" y1="482" y2="493" stroke="#000" stroke-width="1"/><rect x="489.1" y="485" width="4.9" height="1.8" fill="#000"/><line x1="496.5" x2="496.5" y1="490" y2="522" stroke="#c8102e" stroke-width="1"/><rect x="494.1" y="490" width="4.9" height="20" fill="#c8102e"/><line x1="501.5" x2="501.5" y1="503.6" y2="526" stroke="#c8102e" stroke-width="1"/><rect x="499.1" y="503.6" width="4.9" height="16.8" fill="#c8102e"/><line x1="506.5" x2="506.5" y1="506" y2="520" stroke="#000" stroke-width="1"/><rect x="504.6" y="509.4" width="3.8" height="10.2" fill="#fff" stroke="#000" stroke-width="1"/><line x1="511.5" x2="511.5" y1="503" y2="522" stroke="#c8102e" stroke-width="1"/><rect x="509.1" y="508.6" width="4.9" height="7.8" fill="#c8102e"/><line x1="516.5" x2="516.5" y1="511" y2="527" stroke="#c8102e" stroke-width="1"/><rect x="514" y="514.6" width="4.9" height="7.8" fill="#c8102e"/><line x1="521.5" x2="521.5" y1="505" y2="519" stroke="#000" stroke-width="1"/><rect x="519.6" y="509.4" width="3.8" height="6.6" fill="#fff" stroke="#000" stroke-width="1"/><line x1="526.5" x2="526.5" y1="499" y2="514" stroke="#000" stroke-width="1"/><rect x="524" y="504" width="4.9" height="1.8" fill="#000"/><line x1="531.5" x2="531.5" y1="496.6" y2="522" stroke="#c8102e" stroke-width="1"/><rect x="529" y="496.6" width="4.9" height="22.8" fill="#c8102e"/><line x1="536.5" x2="536.5" y1="515" y2="528" stroke="#c8102e" stroke-width="1"/><rect x="534" y="518.6" width="4.9" height="9.4" fill="#c8102e"/><line x1="541.5" x2="541.5" y1="506" y2="528" stroke="#000" stroke-width="1"/><rect x="539.6" y="511.4" width="3.8" height="16" fill="#fff" stroke="#000" stroke-width="1"/><line x1="546.5" x2="546.5" y1="499" y2="509.6" stroke="#000" stroke-width="1"/><rect x="544" y="502.6" width="4.9" height="6.8" fill="#000"/><line x1="551.5" x2="551.5" y1="504" y2="518.4" stroke="#c8102e" stroke-width="1"/><rect x="549" y="507.6" width="4.9" height="10.8" fill="#c8102e"/><line x1="556.5" x2="556.5" y1="510" y2="535" stroke="#c8102e" stroke-width="1"/><rect x="554" y="516.6" width="4.9" height="8.8" fill="#c8102e"/><line x1="561.5" x2="561.5" y1="523.6" y2="539" stroke="#c8102e" stroke-width="1"/><rect x="559" y="523.6" width="4.9" height="13.8" fill="#c8102e"/><line x1="566.5" x2="566.5" y1="508" y2="537" stroke="#000" stroke-width="1"/><rect x="564.6" y="511.4" width="3.8" height="25.2" fill="#fff" stroke="#000" stroke-width="1"/><line x1="571.5" x2="571.5" y1="508" y2="518" stroke="#c8102e" stroke-width="1"/><rect x="569" y="510.6" width="4.9" height="7.2" fill="#c8102e"/><line x1="576.5" x2="576.5" y1="514" y2="528" stroke="#c8102e" stroke-width="1"/><rect x="574" y="516.6" width="4.9" height="9.8" fill="#c8102e"/><line x1="581.5" x2="581.5" y1="526" y2="532" stroke="#c8102e" stroke-width="1"/><rect x="579" y="528.6" width="4.9" height="1.8" fill="#c8102e"/><line x1="586.5" x2="586.5" y1="514" y2="530" stroke="#000" stroke-width="1"/><rect x="584.6" y="515" width="3.8" height="14.6" fill="#fff" stroke="#000" stroke-width="1"/><line x1="591.5" x2="591.5" y1="497" y2="518" stroke="#000" stroke-width="1"/><rect x="589.6" y="500.6" width="3.8" height="15" fill="#fff" stroke="#000" stroke-width="1"/><line x1="596.5" x2="596.5" y1="497" y2="508" stroke="#c8102e" stroke-width="1"/><rect x="594" y="499.6" width="4.9" height="8.2" fill="#c8102e"/><line x1="601.5" x2="601.5" y1="479" y2="502" stroke="#000" stroke-width="1"/><rect x="599.6" y="480.4" width="3.8" height="20" fill="#fff" stroke="#000" stroke-width="1"/><line x1="606.5" x2="606.5" y1="473.8" y2="490.4" stroke="#c8102e" stroke-width="1"/><rect x="604" y="474.4" width="4.9" height="15.6" fill="#c8102e"/><line x1="611.5" x2="611.5" y1="480" y2="499.3" stroke="#c8102e" stroke-width="1"/><rect x="609.6" y="494.8" width="3.8" height="3.9" fill="#fff" stroke="#c8102e" stroke-width="1"/><line x1="616.5" x2="616.5" y1="465" y2="494.1" stroke="#000" stroke-width="1"/><rect x="614.6" y="467.1" width="3.8" height="26.6" fill="#fff" stroke="#000" stroke-width="1"/><line x1="621.5" x2="621.5" y1="466.7" y2="482.7" stroke="#c8102e" stroke-width="1"/><rect x="619" y="466.7" width="4.9" height="9.7" fill="#c8102e"/><line x1="626.5" x2="626.5" y1="459.9" y2="477.9" stroke="#c8102e" stroke-width="1"/><rect x="624" y="467.8" width="4.9" height="10.1" fill="#c8102e"/><line x1="631.5" x2="631.5" y1="455.7" y2="473.8" stroke="#000" stroke-width="1"/><rect x="629.6" y="465.5" width="3.8" height="7.9" fill="#fff" stroke="#000" stroke-width="1"/><line x1="636.5" x2="636.5" y1="415.2" y2="466.1" stroke="#000" stroke-width="1"/><rect x="634.6" y="417.3" width="3.8" height="48.2" fill="#fff" stroke="#000" stroke-width="1"/><line x1="641.5" x2="641.5" y1="403.1" y2="428.1" stroke="#c8102e" stroke-width="1"/><rect x="639" y="416.9" width="4.9" height="11.2" fill="#c8102e"/><line x1="646.5" x2="646.5" y1="385.1" y2="427.6" stroke="#000" stroke-width="1"/><rect x="644.6" y="386.1" width="3.8" height="29.1" fill="#fff" stroke="#000" stroke-width="1"/><line x1="651.5" x2="651.5" y1="351.8" y2="407.9" stroke="#c8102e" stroke-width="1"/><rect x="649" y="386.7" width="4.9" height="21" fill="#c8102e"/><line x1="656.5" x2="656.5" y1="406.9" y2="445.9" stroke="#c8102e" stroke-width="1"/><rect x="654" y="406.9" width="4.9" height="8.1" fill="#c8102e"/><line x1="661.5" x2="661.5" y1="399.2" y2="423.9" stroke="#000" stroke-width="1"/><rect x="659.6" y="402.3" width="3.8" height="10.2" fill="#fff" stroke="#000" stroke-width="1"/><line x1="666.5" x2="666.5" y1="387.1" y2="411" stroke="#000" stroke-width="1"/><rect x="664.6" y="389.2" width="3.8" height="13.1" fill="#fff" stroke="#000" stroke-width="1"/><line x1="671.5" x2="671.5" y1="383" y2="400.6" stroke="#c8102e" stroke-width="1"/><rect x="669" y="389.9" width="4.9" height="3.9" fill="#c8102e"/><line x1="676.5" x2="676.5" y1="392.3" y2="412.1" stroke="#c8102e" stroke-width="1"/><rect x="674" y="393" width="4.9" height="17.4" fill="#c8102e"/><line x1="681.5" x2="681.5" y1="385.1" y2="410" stroke="#000" stroke-width="1"/><rect x="679.6" y="396.5" width="3.8" height="12.9" fill="#fff" stroke="#000" stroke-width="1"/><line x1="686.5" x2="686.5" y1="319.6" y2="383" stroke="#000" stroke-width="1"/><rect x="684.6" y="328.9" width="3.8" height="53.4" fill="#fff" stroke="#000" stroke-width="1"/><line x1="691.5" x2="691.5" y1="342.9" y2="368.4" stroke="#c8102e" stroke-width="1"/><rect x="689" y="343.1" width="4.9" height="24.7" fill="#c8102e"/><line x1="696.5" x2="696.5" y1="350.3" y2="367.8" stroke="#000" stroke-width="1"/><rect x="694.6" y="365.3" width="3.8" height="2.1" fill="#fff" stroke="#000" stroke-width="1"/><line x1="701.5" x2="701.5" y1="330" y2="365.7" stroke="#000" stroke-width="1"/><rect x="699.6" y="335.6" width="3.8" height="29.7" fill="#fff" stroke="#000" stroke-width="1"/><line x1="706.5" x2="706.5" y1="335.6" y2="355.9" stroke="#c8102e" stroke-width="1"/><rect x="704" y="335.2" width="4.9" height="1.8" fill="#c8102e"/><line x1="711.5" x2="711.5" y1="278" y2="336.2" stroke="#000" stroke-width="1"/><rect x="709.6" y="303.6" width="3.8" height="32.6" fill="#fff" stroke="#000" stroke-width="1"/><line x1="716.5" x2="716.5" y1="294.7" y2="327.9" stroke="#000" stroke-width="1"/><rect x="714.6" y="296.1" width="3.8" height="7.5" fill="#fff" stroke="#000" stroke-width="1"/><line x1="721.5" x2="721.5" y1="275.3" y2="305" stroke="#000" stroke-width="1"/><rect x="719.6" y="281.6" width="3.8" height="14.5" fill="#fff" stroke="#000" stroke-width="1"/><line x1="726.5" x2="726.5" y1="253.5" y2="301.9" stroke="#000" stroke-width="1"/><rect x="724.6" y="256.6" width="3.8" height="23.9" fill="#fff" stroke="#000" stroke-width="1"/><line x1="731.5" x2="731.5" y1="214" y2="251" stroke="#000" stroke-width="1"/><rect x="729.6" y="236.5" width="3.8" height="13.9" fill="#fff" stroke="#000" stroke-width="1"/><line x1="736.5" x2="736.5" y1="231.3" y2="292.6" stroke="#c8102e" stroke-width="1"/><rect x="734" y="235.7" width="4.9" height="56.9" fill="#c8102e"/><line x1="741.5" x2="741.5" y1="271.8" y2="331" stroke="#000" stroke-width="1"/><rect x="739" y="289.7" width="4.9" height="1.8" fill="#000"/><line x1="746.5" x2="746.5" y1="237.5" y2="288.8" stroke="#000" stroke-width="1"/><rect x="744.6" y="238.6" width="3.8" height="49.9" fill="#fff" stroke="#000" stroke-width="1"/><line x1="751.5" x2="751.5" y1="202.2" y2="247.9" stroke="#c8102e" stroke-width="1"/><rect x="749" y="237.7" width="4.9" height="7.4" fill="#c8102e"/><line x1="756.5" x2="756.5" y1="221.9" y2="272.8" stroke="#000" stroke-width="1"/><rect x="754.6" y="235.4" width="3.8" height="8.9" fill="#fff" stroke="#000" stroke-width="1"/><line x1="761.5" x2="761.5" y1="234" y2="301.9" stroke="#c8102e" stroke-width="1"/><rect x="759" y="234" width="4.9" height="66.7" fill="#c8102e"/><line x1="766.5" x2="766.5" y1="285.3" y2="309.2" stroke="#000" stroke-width="1"/><rect x="764" y="298.4" width="4.9" height="1.8" fill="#000"/><line x1="771.5" x2="771.5" y1="228.2" y2="271.8" stroke="#000" stroke-width="1"/><rect x="769.6" y="237.5" width="3.8" height="21.8" fill="#fff" stroke="#000" stroke-width="1"/><line x1="776.5" x2="776.5" y1="207.4" y2="255.6" stroke="#c8102e" stroke-width="1"/><rect x="774" y="241.9" width="4.9" height="1.8" fill="#c8102e"/><line x1="781.5" x2="781.5" y1="180.4" y2="243.8" stroke="#000" stroke-width="1"/><rect x="779.6" y="208.4" width="3.8" height="34.7" fill="#fff" stroke="#000" stroke-width="1"/><line x1="786.5" x2="786.5" y1="201.2" y2="251" stroke="#000" stroke-width="1"/><rect x="784.6" y="205.3" width="3.8" height="3.1" fill="#fff" stroke="#000" stroke-width="1"/><line x1="791.5" x2="791.5" y1="207.4" y2="250" stroke="#c8102e" stroke-width="1"/><rect x="789" y="224.7" width="4.9" height="22.6" fill="#c8102e"/><line x1="796.5" x2="796.5" y1="232.3" y2="262.5" stroke="#000" stroke-width="1"/><rect x="794.6" y="236.5" width="3.8" height="10" fill="#fff" stroke="#000" stroke-width="1"/><line x1="801.5" x2="801.5" y1="235.7" y2="261.8" stroke="#c8102e" stroke-width="1"/><rect x="799" y="235.7" width="4.9" height="26.1" fill="#c8102e"/><line x1="806.5" x2="806.5" y1="250" y2="285.3" stroke="#c8102e" stroke-width="1"/><rect x="804" y="260" width="4.9" height="11.8" fill="#c8102e"/><line x1="811.5" x2="811.5" y1="268.7" y2="297.2" stroke="#c8102e" stroke-width="1"/><rect x="809" y="269.7" width="4.9" height="27" fill="#c8102e"/><line x1="816.5" x2="816.5" y1="294.7" y2="341.4" stroke="#c8102e" stroke-width="1"/><rect x="814" y="295.3" width="4.9" height="28.8" fill="#c8102e"/><line x1="821.5" x2="821.5" y1="288.4" y2="327.9" stroke="#000" stroke-width="1"/><rect x="819.6" y="293.6" width="3.8" height="29.7" fill="#fff" stroke="#000" stroke-width="1"/><line x1="826.5" x2="826.5" y1="253.1" y2="288.8" stroke="#000" stroke-width="1"/><rect x="824.6" y="257.7" width="3.8" height="26.6" fill="#fff" stroke="#000" stroke-width="1"/><line x1="831.5" x2="831.5" y1="256.8" y2="288.4" stroke="#c8102e" stroke-width="1"/><rect x="829" y="256.9" width="4.9" height="30.9" fill="#c8102e"/><line x1="836.5" x2="836.5" y1="262.5" y2="292.6" stroke="#000" stroke-width="1"/><rect x="834.6" y="271.4" width="3.8" height="15" fill="#fff" stroke="#000" stroke-width="1"/><line x1="841.5" x2="841.5" y1="254.1" y2="277" stroke="#000" stroke-width="1"/><rect x="839.6" y="266.6" width="3.8" height="4.8" fill="#fff" stroke="#000" stroke-width="1"/><line x1="846.5" x2="846.5" y1="245.8" y2="266" stroke="#000" stroke-width="1"/><rect x="844.6" y="248.5" width="3.8" height="16.6" fill="#fff" stroke="#000" stroke-width="1"/><line x1="851.5" x2="851.5" y1="236.5" y2="277" stroke="#c8102e" stroke-width="1"/><rect x="849" y="248.1" width="4.9" height="24.5" fill="#c8102e"/><line x1="856.5" x2="856.5" y1="248.1" y2="272.8" stroke="#000" stroke-width="1"/><rect x="854.6" y="248.5" width="3.8" height="12.9" fill="#fff" stroke="#000" stroke-width="1"/><line x1="861.5" x2="861.5" y1="236.9" y2="253.1" stroke="#000" stroke-width="1"/><rect x="859" y="236.7" width="4.9" height="2.9" fill="#000"/><line x1="866.5" x2="866.5" y1="226.1" y2="245.8" stroke="#c8102e" stroke-width="1"/><rect x="864" y="235" width="4.9" height="10.1" fill="#c8102e"/><line x1="871.5" x2="871.5" y1="221.5" y2="245.8" stroke="#000" stroke-width="1"/><rect x="869.6" y="222.4" width="3.8" height="18.9" fill="#fff" stroke="#000" stroke-width="1"/><line x1="876.5" x2="876.5" y1="201.2" y2="227.8" stroke="#000" stroke-width="1"/><rect x="874.6" y="203.7" width="3.8" height="18.3" fill="#fff" stroke="#000" stroke-width="1"/><line x1="881.5" x2="881.5" y1="202.8" y2="241.7" stroke="#c8102e" stroke-width="1"/><rect x="879" y="202.8" width="4.9" height="24.7" fill="#c8102e"/><line x1="886.5" x2="886.5" y1="231.3" y2="264.5" stroke="#c8102e" stroke-width="1"/><rect x="884" y="231.5" width="4.9" height="23" fill="#c8102e"/><line x1="891.5" x2="891.5" y1="251" y2="269.7" stroke="#c8102e" stroke-width="1"/><rect x="889" y="252.7" width="4.9" height="16.4" fill="#c8102e"/><line x1="896.5" x2="896.5" y1="262.5" y2="292.6" stroke="#c8102e" stroke-width="1"/><rect x="894" y="267.9" width="4.9" height="24.1" fill="#c8102e"/><line x1="901.5" x2="901.5" y1="283.2" y2="311.3" stroke="#000" stroke-width="1"/><rect x="899" y="287" width="4.9" height="1.8" fill="#000"/><line x1="906.5" x2="906.5" y1="240.2" y2="270.1" stroke="#000" stroke-width="1"/><rect x="904.6" y="241.7" width="3.8" height="27.6" fill="#fff" stroke="#000" stroke-width="1"/><line x1="911.5" x2="911.5" y1="246.9" y2="262.5" stroke="#c8102e" stroke-width="1"/><rect x="909" y="246.9" width="4.9" height="14.9" fill="#c8102e"/><line x1="916.5" x2="916.5" y1="251" y2="270.8" stroke="#c8102e" stroke-width="1"/><rect x="914" y="260" width="4.9" height="9.1" fill="#c8102e"/><line x1="921.5" x2="921.5" y1="252.1" y2="269.7" stroke="#000" stroke-width="1"/><rect x="919.6" y="257.7" width="3.8" height="5.2" fill="#fff" stroke="#000" stroke-width="1"/><line x1="926.5" x2="926.5" y1="246.9" y2="274.9" stroke="#c8102e" stroke-width="1"/><rect x="924" y="256.9" width="4.9" height="14.9" fill="#c8102e"/><line x1="931.5" x2="931.5" y1="271.8" y2="282.2" stroke="#c8102e" stroke-width="1"/><rect x="929" y="274.9" width="4.9" height="3.5" fill="#c8102e"/><line x1="936.5" x2="936.5" y1="272.8" y2="285.3" stroke="#000" stroke-width="1"/><rect x="934" y="272.9" width="4.9" height="2.9" fill="#000"/><line x1="941.5" x2="941.5" y1="274.9" y2="296.7" stroke="#c8102e" stroke-width="1"/><rect x="939" y="274.9" width="4.9" height="14.3" fill="#c8102e"/><line x1="946.5" x2="946.5" y1="285.3" y2="300.9" stroke="#000" stroke-width="1"/><rect x="944.6" y="288" width="3.8" height="2.5" fill="#fff" stroke="#000" stroke-width="1"/><line x1="951.5" x2="951.5" y1="275.3" y2="295.7" stroke="#c8102e" stroke-width="1"/><rect x="949" y="287.6" width="4.9" height="7.4" fill="#c8102e"/>
</g>
<line x1="43.5" x2="579" y1="262.5" y2="262.5" stroke="#0000ff" stroke-width="1" stroke-dasharray="4.6 2.6" shape-rendering="crispEdges"/>
<line x1="680.5" x2="958.5" y1="262.5" y2="262.5" stroke="#0000ff" stroke-width="1" stroke-dasharray="6 4" shape-rendering="crispEdges"/>
<line x1="43.5" x2="579" y1="295.5" y2="295.5" stroke="#0000ff" stroke-width="1" stroke-dasharray="4.6 2.6" shape-rendering="crispEdges"/>
<line x1="680.5" x2="958.5" y1="295.5" y2="295.5" stroke="#0000ff" stroke-width="1" stroke-dasharray="6 4" shape-rendering="crispEdges"/>
<line x1="43.5" x2="579" y1="334.5" y2="334.5" stroke="#0000ff" stroke-width="1" stroke-dasharray="4.6 2.6" shape-rendering="crispEdges"/>
<line x1="680.5" x2="958.5" y1="334.5" y2="334.5" stroke="#0000ff" stroke-width="1" stroke-dasharray="6 4" shape-rendering="crispEdges"/>
<line x1="581" x2="677" y1="539.5" y2="539.5" stroke="#0000ff" stroke-width="1" shape-rendering="crispEdges"/>
<text x="607.8" y="537.3" font-size="10" fill="#8a8a8a" textLength="67.1" lengthAdjust="spacing">100.0%: 18.61</text>
<line x1="581" x2="677" y1="180.5" y2="180.5" stroke="#0000ff" stroke-width="1" shape-rendering="crispEdges"/>
<text x="618.3" y="178.3" font-size="10" fill="#8a8a8a" textLength="58.2" lengthAdjust="spacing">0.0%: 89.53</text>
<line x1="581" x2="677" y1="262.5" y2="262.5" stroke="#0000ff" stroke-width="1" shape-rendering="crispEdges"/>
<text x="612.6" y="260.3" font-size="10" fill="#8a8a8a" textLength="63.9" lengthAdjust="spacing">38.2%: 62.44</text>
<line x1="581" x2="677" y1="295.5" y2="295.5" stroke="#0000ff" stroke-width="1" shape-rendering="crispEdges"/>
<text x="612.6" y="293.3" font-size="10" fill="#8a8a8a" textLength="63.9" lengthAdjust="spacing">50.0%: 54.07</text>
<line x1="581" x2="677" y1="334.5" y2="334.5" stroke="#0000ff" stroke-width="1" shape-rendering="crispEdges"/>
<text x="612.6" y="332.3" font-size="10" fill="#8a8a8a" textLength="63.9" lengthAdjust="spacing">61.8%: 45.70</text>
<line x1="781.6" y1="180.4" x2="990" y2="228.1" stroke="#1a1aff" stroke-width="1.3"/>
<line x1="781.6" y1="353.3" x2="990" y2="281.2" stroke="#1a1aff" stroke-width="1.3"/>
<ellipse cx="788.8" cy="205.3" rx="17.8" ry="12.3" fill="none" stroke="#228b22" stroke-width="1.1"/>
<ellipse cx="878.8" cy="208.4" rx="17.7" ry="13.1" fill="none" stroke="#228b22" stroke-width="1.1"/>
<rect x="43.5" y="173.5" width="915.0" height="410.0" fill="none" stroke="#b4b4b4" stroke-width="1" shape-rendering="crispEdges"/>
<line x1="958.5" x2="961.5" y1="522.5" y2="522.5" stroke="#b4b4b4" shape-rendering="crispEdges"/>
<text x="962" y="526.2" font-size="10" fill="#000">20</text>
<line x1="958.5" x2="961.5" y1="471.5" y2="471.5" stroke="#b4b4b4" shape-rendering="crispEdges"/>
<text x="962" y="475.1" font-size="10" fill="#000">25</text>
<line x1="958.5" x2="961.5" y1="429.5" y2="429.5" stroke="#b4b4b4" shape-rendering="crispEdges"/>
<text x="962" y="433.5" font-size="10" fill="#000">30</text>
<line x1="958.5" x2="961.5" y1="394.5" y2="394.5" stroke="#b4b4b4" shape-rendering="crispEdges"/>
<text x="962" y="398.2" font-size="10" fill="#000">35</text>
<line x1="958.5" x2="961.5" y1="363.5" y2="363.5" stroke="#b4b4b4" shape-rendering="crispEdges"/>
<text x="962" y="367.7" font-size="10" fill="#000">40</text>
<line x1="958.5" x2="961.5" y1="336.5" y2="336.5" stroke="#b4b4b4" shape-rendering="crispEdges"/>
<text x="962" y="340.7" font-size="10" fill="#000">45</text>
<line x1="958.5" x2="961.5" y1="312.5" y2="312.5" stroke="#b4b4b4" shape-rendering="crispEdges"/>
<text x="962" y="316.6" font-size="10" fill="#000">50</text>
<line x1="958.5" x2="961.5" y1="290.5" y2="290.5" stroke="#b4b4b4" shape-rendering="crispEdges"/>
<text x="962" y="294.8" font-size="10" fill="#000">55</text>
<line x1="958.5" x2="961.5" y1="271.5" y2="271.5" stroke="#b4b4b4" shape-rendering="crispEdges"/>
<text x="962" y="274.9" font-size="10" fill="#000">60</text>
<line x1="958.5" x2="961.5" y1="252.5" y2="252.5" stroke="#b4b4b4" shape-rendering="crispEdges"/>
<text x="962" y="256.6" font-size="10" fill="#000">65</text>
<line x1="958.5" x2="961.5" y1="235.5" y2="235.5" stroke="#b4b4b4" shape-rendering="crispEdges"/>
<text x="962" y="239.7" font-size="10" fill="#000">70</text>
<line x1="958.5" x2="961.5" y1="219.5" y2="219.5" stroke="#b4b4b4" shape-rendering="crispEdges"/>
<text x="962" y="223.9" font-size="10" fill="#000">75</text>
<line x1="958.5" x2="961.5" y1="205.5" y2="205.5" stroke="#b4b4b4" shape-rendering="crispEdges"/>
<text x="962" y="209.1" font-size="10" fill="#000">80</text>
<line x1="958.5" x2="961.5" y1="191.5" y2="191.5" stroke="#b4b4b4" shape-rendering="crispEdges"/>
<text x="962" y="195.3" font-size="10" fill="#000">85</text>
<line x1="958.5" x2="961.5" y1="178.5" y2="178.5" stroke="#b4b4b4" shape-rendering="crispEdges"/>
<text x="962" y="182.2" font-size="10" fill="#000">90</text>
<line x1="958.5" x2="960.5" y1="573.5" y2="573.5" stroke="#c4c4c4" shape-rendering="crispEdges"/><line x1="958.5" x2="960.5" y1="559.5" y2="559.5" stroke="#c4c4c4" shape-rendering="crispEdges"/><line x1="958.5" x2="960.5" y1="546.5" y2="546.5" stroke="#c4c4c4" shape-rendering="crispEdges"/><line x1="958.5" x2="960.5" y1="534.5" y2="534.5" stroke="#c4c4c4" shape-rendering="crispEdges"/><line x1="958.5" x2="960.5" y1="511.5" y2="511.5" stroke="#c4c4c4" shape-rendering="crispEdges"/><line x1="958.5" x2="960.5" y1="500.5" y2="500.5" stroke="#c4c4c4" shape-rendering="crispEdges"/><line x1="958.5" x2="960.5" y1="490.5" y2="490.5" stroke="#c4c4c4" shape-rendering="crispEdges"/><line x1="958.5" x2="960.5" y1="480.5" y2="480.5" stroke="#c4c4c4" shape-rendering="crispEdges"/><line x1="958.5" x2="960.5" y1="462.5" y2="462.5" stroke="#c4c4c4" shape-rendering="crispEdges"/><line x1="958.5" x2="960.5" y1="453.5" y2="453.5" stroke="#c4c4c4" shape-rendering="crispEdges"/><line x1="958.5" x2="960.5" y1="445.5" y2="445.5" stroke="#c4c4c4" shape-rendering="crispEdges"/><line x1="958.5" x2="960.5" y1="437.5" y2="437.5" stroke="#c4c4c4" shape-rendering="crispEdges"/><line x1="958.5" x2="960.5" y1="422.5" y2="422.5" stroke="#c4c4c4" shape-rendering="crispEdges"/><line x1="958.5" x2="960.5" y1="414.5" y2="414.5" stroke="#c4c4c4" shape-rendering="crispEdges"/><line x1="958.5" x2="960.5" y1="407.5" y2="407.5" stroke="#c4c4c4" shape-rendering="crispEdges"/><line x1="958.5" x2="960.5" y1="400.5" y2="400.5" stroke="#c4c4c4" shape-rendering="crispEdges"/><line x1="958.5" x2="960.5" y1="387.5" y2="387.5" stroke="#c4c4c4" shape-rendering="crispEdges"/><line x1="958.5" x2="960.5" y1="381.5" y2="381.5" stroke="#c4c4c4" shape-rendering="crispEdges"/><line x1="958.5" x2="960.5" y1="375.5" y2="375.5" stroke="#c4c4c4" shape-rendering="crispEdges"/><line x1="958.5" x2="960.5" y1="369.5" y2="369.5" stroke="#c4c4c4" shape-rendering="crispEdges"/><line x1="958.5" x2="960.5" y1="358.5" y2="358.5" stroke="#c4c4c4" shape-rendering="crispEdges"/><line x1="958.5" x2="960.5" y1="352.5" y2="352.5" stroke="#c4c4c4" shape-rendering="crispEdges"/><line x1="958.5" x2="960.5" y1="347.5" y2="347.5" stroke="#c4c4c4" shape-rendering="crispEdges"/><line x1="958.5" x2="960.5" y1="341.5" y2="341.5" stroke="#c4c4c4" shape-rendering="crispEdges"/><line x1="958.5" x2="960.5" y1="331.5" y2="331.5" stroke="#c4c4c4" shape-rendering="crispEdges"/><line x1="958.5" x2="960.5" y1="326.5" y2="326.5" stroke="#c4c4c4" shape-rendering="crispEdges"/><line x1="958.5" x2="960.5" y1="322.5" y2="322.5" stroke="#c4c4c4" shape-rendering="crispEdges"/><line x1="958.5" x2="960.5" y1="317.5" y2="317.5" stroke="#c4c4c4" shape-rendering="crispEdges"/><line x1="958.5" x2="960.5" y1="308.5" y2="308.5" stroke="#c4c4c4" shape-rendering="crispEdges"/><line x1="958.5" x2="960.5" y1="303.5" y2="303.5" stroke="#c4c4c4" shape-rendering="crispEdges"/><line x1="958.5" x2="960.5" y1="299.5" y2="299.5" stroke="#c4c4c4" shape-rendering="crispEdges"/><line x1="958.5" x2="960.5" y1="295.5" y2="295.5" stroke="#c4c4c4" shape-rendering="crispEdges"/><line x1="958.5" x2="960.5" y1="286.5" y2="286.5" stroke="#c4c4c4" shape-rendering="crispEdges"/><line x1="958.5" x2="960.5" y1="282.5" y2="282.5" stroke="#c4c4c4" shape-rendering="crispEdges"/><line x1="958.5" x2="960.5" y1="278.5" y2="278.5" stroke="#c4c4c4" shape-rendering="crispEdges"/><line x1="958.5" x2="960.5" y1="274.5" y2="274.5" stroke="#c4c4c4" shape-rendering="crispEdges"/><line x1="958.5" x2="960.5" y1="267.5" y2="267.5" stroke="#c4c4c4" shape-rendering="crispEdges"/><line x1="958.5" x2="960.5" y1="263.5" y2="263.5" stroke="#c4c4c4" shape-rendering="crispEdges"/><line x1="958.5" x2="960.5" y1="259.5" y2="259.5" stroke="#c4c4c4" shape-rendering="crispEdges"/><line x1="958.5" x2="960.5" y1="256.5" y2="256.5" stroke="#c4c4c4" shape-rendering="crispEdges"/><line x1="958.5" x2="960.5" y1="249.5" y2="249.5" stroke="#c4c4c4" shape-rendering="crispEdges"/><line x1="958.5" x2="960.5" y1="245.5" y2="245.5" stroke="#c4c4c4" shape-rendering="crispEdges"/><line x1="958.5" x2="960.5" y1="242.5" y2="242.5" stroke="#c4c4c4" shape-rendering="crispEdges"/><line x1="958.5" x2="960.5" y1="239.5" y2="239.5" stroke="#c4c4c4" shape-rendering="crispEdges"/><line x1="958.5" x2="960.5" y1="232.5" y2="232.5" stroke="#c4c4c4" shape-rendering="crispEdges"/><line x1="958.5" x2="960.5" y1="229.5" y2="229.5" stroke="#c4c4c4" shape-rendering="crispEdges"/><line x1="958.5" x2="960.5" y1="226.5" y2="226.5" stroke="#c4c4c4" shape-rendering="crispEdges"/><line x1="958.5" x2="960.5" y1="223.5" y2="223.5" stroke="#c4c4c4" shape-rendering="crispEdges"/><line x1="958.5" x2="960.5" y1="216.5" y2="216.5" stroke="#c4c4c4" shape-rendering="crispEdges"/><line x1="958.5" x2="960.5" y1="213.5" y2="213.5" stroke="#c4c4c4" shape-rendering="crispEdges"/><line x1="958.5" x2="960.5" y1="211.5" y2="211.5" stroke="#c4c4c4" shape-rendering="crispEdges"/><line x1="958.5" x2="960.5" y1="208.5" y2="208.5" stroke="#c4c4c4" shape-rendering="crispEdges"/><line x1="958.5" x2="960.5" y1="202.5" y2="202.5" stroke="#c4c4c4" shape-rendering="crispEdges"/><line x1="958.5" x2="960.5" y1="199.5" y2="199.5" stroke="#c4c4c4" shape-rendering="crispEdges"/><line x1="958.5" x2="960.5" y1="196.5" y2="196.5" stroke="#c4c4c4" shape-rendering="crispEdges"/><line x1="958.5" x2="960.5" y1="194.5" y2="194.5" stroke="#c4c4c4" shape-rendering="crispEdges"/><line x1="958.5" x2="960.5" y1="188.5" y2="188.5" stroke="#c4c4c4" shape-rendering="crispEdges"/><line x1="958.5" x2="960.5" y1="186.5" y2="186.5" stroke="#c4c4c4" shape-rendering="crispEdges"/><line x1="958.5" x2="960.5" y1="183.5" y2="183.5" stroke="#c4c4c4" shape-rendering="crispEdges"/><line x1="958.5" x2="960.5" y1="180.5" y2="180.5" stroke="#c4c4c4" shape-rendering="crispEdges"/>
<line x1="39.5" x2="43.5" y1="578.5" y2="578.5" stroke="#b4b4b4" shape-rendering="crispEdges"/>
<text x="38" y="581.9" font-size="10" text-anchor="end">750</text>
<line x1="39.5" x2="43.5" y1="538.5" y2="538.5" stroke="#b4b4b4" shape-rendering="crispEdges"/>
<text x="38" y="541.9" font-size="10" text-anchor="end">800</text>
<line x1="39.5" x2="43.5" y1="500.5" y2="500.5" stroke="#b4b4b4" shape-rendering="crispEdges"/>
<text x="38" y="504.3" font-size="10" text-anchor="end">850</text>
<line x1="39.5" x2="43.5" y1="465.5" y2="465.5" stroke="#b4b4b4" shape-rendering="crispEdges"/>
<text x="38" y="468.8" font-size="10" text-anchor="end">900</text>
<line x1="39.5" x2="43.5" y1="431.5" y2="431.5" stroke="#b4b4b4" shape-rendering="crispEdges"/>
<text x="38" y="435.3" font-size="10" text-anchor="end">950</text>
<line x1="39.5" x2="43.5" y1="399.5" y2="399.5" stroke="#b4b4b4" shape-rendering="crispEdges"/>
<text x="38" y="403.5" font-size="10" text-anchor="end">1000</text>
<line x1="39.5" x2="43.5" y1="369.5" y2="369.5" stroke="#b4b4b4" shape-rendering="crispEdges"/>
<text x="38" y="373.3" font-size="10" text-anchor="end">1050</text>
<line x1="39.5" x2="43.5" y1="340.5" y2="340.5" stroke="#b4b4b4" shape-rendering="crispEdges"/>
<text x="38" y="344.4" font-size="10" text-anchor="end">1100</text>
<line x1="39.5" x2="43.5" y1="313.5" y2="313.5" stroke="#b4b4b4" shape-rendering="crispEdges"/>
<text x="38" y="316.9" font-size="10" text-anchor="end">1150</text>
<line x1="39.5" x2="43.5" y1="286.5" y2="286.5" stroke="#b4b4b4" shape-rendering="crispEdges"/>
<text x="38" y="290.5" font-size="10" text-anchor="end">1200</text>
<line x1="39.5" x2="43.5" y1="261.5" y2="261.5" stroke="#b4b4b4" shape-rendering="crispEdges"/>
<text x="38" y="265.2" font-size="10" text-anchor="end">1250</text>
<line x1="39.5" x2="43.5" y1="237.5" y2="237.5" stroke="#b4b4b4" shape-rendering="crispEdges"/>
<text x="38" y="240.8" font-size="10" text-anchor="end">1300</text>
<line x1="39.5" x2="43.5" y1="213.5" y2="213.5" stroke="#b4b4b4" shape-rendering="crispEdges"/>
<text x="38" y="217.4" font-size="10" text-anchor="end">1350</text>
<line x1="39.5" x2="43.5" y1="191.5" y2="191.5" stroke="#b4b4b4" shape-rendering="crispEdges"/>
<text x="38" y="194.9" font-size="10" text-anchor="end">1400</text>
<rect x="44.5" y="175.2" width="118" height="11" fill="#fff"/>
<text x="59" y="184.3" font-size="10" fill="#000" textLength="101" lengthAdjust="spacing">$VIX (Daily) 54.28</text>
<path d="M47.5 176.5v8M51.5 176.5v8" stroke="#000" stroke-width="1"/><rect x="46" y="178" width="3" height="5" fill="#000"/><rect x="50.3" y="178" width="2.6" height="5" fill="#fff" stroke="#000" stroke-width=".8"/>
<rect x="44.5" y="185.8" width="74" height="11" fill="#fff"/>
<line x1="46.5" x2="54.5" y1="191.3" y2="191.3" stroke="#00008b" stroke-width="2"/>
<text x="57" y="194.9" font-size="10" fill="#00008b" textLength="59" lengthAdjust="spacing">MA(50) 62.23</text>
<rect x="44.5" y="196.9" width="74" height="11" fill="#fff"/>
<line x1="46.5" x2="54.5" y1="202.4" y2="202.4" stroke="#ff0000" stroke-width="2"/>
<text x="57" y="206" font-size="10" fill="#ff0000" textLength="64" lengthAdjust="spacing">MA(200) 33.33</text>
<rect x="44.5" y="208" width="153" height="11" fill="#fff"/>
<text x="57" y="217.1" font-size="10" fill="#8b4726" textLength="138" lengthAdjust="spacing">BB(20,2.0) 49.20 - 63.31 - 77.42</text>
<path d="M46 217.5 l0 -3 l3 -5 l2 3 l2.5 -4 l1.5 2 l0 7z" fill="#e6cfc9"/>
<rect x="44.5" y="218.1" width="104" height="11" fill="#fff"/>
<line x1="46.5" x2="54.5" y1="223.6" y2="223.6" stroke="#006400" stroke-width="2"/>
<text x="57" y="227.2" font-size="10" fill="#006400" textLength="87" lengthAdjust="spacing">$SPX (Daily) 879.73</text>
<line x1="46.5" x2="46.5" y1="584" y2="585.5" stroke="#b0b0b0" shape-rendering="crispEdges"/><line x1="51.5" x2="51.5" y1="584" y2="585.5" stroke="#b0b0b0" shape-rendering="crispEdges"/><line x1="56.5" x2="56.5" y1="584" y2="585.5" stroke="#b0b0b0" shape-rendering="crispEdges"/><line x1="61.5" x2="61.5" y1="584" y2="585.5" stroke="#b0b0b0" shape-rendering="crispEdges"/><line x1="66.5" x2="66.5" y1="584" y2="585.5" stroke="#b0b0b0" shape-rendering="crispEdges"/><line x1="71.5" x2="71.5" y1="584" y2="585.5" stroke="#b0b0b0" shape-rendering="crispEdges"/><line x1="76.5" x2="76.5" y1="584" y2="585.5" stroke="#b0b0b0" shape-rendering="crispEdges"/><line x1="81.5" x2="81.5" y1="584" y2="585.5" stroke="#b0b0b0" shape-rendering="crispEdges"/><line x1="86.5" x2="86.5" y1="584" y2="585.5" stroke="#b0b0b0" shape-rendering="crispEdges"/><line x1="91.5" x2="91.5" y1="584" y2="585.5" stroke="#b0b0b0" shape-rendering="crispEdges"/><line x1="96.5" x2="96.5" y1="584" y2="585.5" stroke="#b0b0b0" shape-rendering="crispEdges"/><line x1="101.5" x2="101.5" y1="584" y2="585.5" stroke="#b0b0b0" shape-rendering="crispEdges"/><line x1="106.5" x2="106.5" y1="584" y2="585.5" stroke="#b0b0b0" shape-rendering="crispEdges"/><line x1="111.5" x2="111.5" y1="584" y2="585.5" stroke="#b0b0b0" shape-rendering="crispEdges"/><line x1="116.5" x2="116.5" y1="584" y2="585.5" stroke="#b0b0b0" shape-rendering="crispEdges"/><line x1="121.5" x2="121.5" y1="584" y2="585.5" stroke="#b0b0b0" shape-rendering="crispEdges"/><line x1="126.5" x2="126.5" y1="584" y2="585.5" stroke="#b0b0b0" shape-rendering="crispEdges"/><line x1="131.5" x2="131.5" y1="584" y2="585.5" stroke="#b0b0b0" shape-rendering="crispEdges"/><line x1="136.5" x2="136.5" y1="584" y2="585.5" stroke="#b0b0b0" shape-rendering="crispEdges"/><line x1="141.5" x2="141.5" y1="584" y2="585.5" stroke="#b0b0b0" shape-rendering="crispEdges"/><line x1="146.5" x2="146.5" y1="584" y2="585.5" stroke="#b0b0b0" shape-rendering="crispEdges"/><line x1="151.5" x2="151.5" y1="584" y2="585.5" stroke="#b0b0b0" shape-rendering="crispEdges"/><line x1="156.5" x2="156.5" y1="584" y2="585.5" stroke="#b0b0b0" shape-rendering="crispEdges"/><line x1="161.5" x2="161.5" y1="584" y2="585.5" stroke="#b0b0b0" shape-rendering="crispEdges"/><line x1="166.5" x2="166.5" y1="584" y2="585.5" stroke="#b0b0b0" shape-rendering="crispEdges"/><line x1="171.5" x2="171.5" y1="584" y2="585.5" stroke="#b0b0b0" shape-rendering="crispEdges"/><line x1="176.5" x2="176.5" y1="584" y2="585.5" stroke="#b0b0b0" shape-rendering="crispEdges"/><line x1="181.5" x2="181.5" y1="584" y2="585.5" stroke="#b0b0b0" shape-rendering="crispEdges"/><line x1="186.5" x2="186.5" y1="584" y2="585.5" stroke="#b0b0b0" shape-rendering="crispEdges"/><line x1="191.5" x2="191.5" y1="584" y2="585.5" stroke="#b0b0b0" shape-rendering="crispEdges"/><line x1="196.5" x2="196.5" y1="584" y2="585.5" stroke="#b0b0b0" shape-rendering="crispEdges"/><line x1="201.5" x2="201.5" y1="584" y2="585.5" stroke="#b0b0b0" shape-rendering="crispEdges"/><line x1="206.5" x2="206.5" y1="584" y2="585.5" stroke="#b0b0b0" shape-rendering="crispEdges"/><line x1="211.5" x2="211.5" y1="584" y2="585.5" stroke="#b0b0b0" shape-rendering="crispEdges"/><line x1="216.5" x2="216.5" y1="584" y2="585.5" stroke="#b0b0b0" shape-rendering="crispEdges"/><line x1="221.5" x2="221.5" y1="584" y2="585.5" stroke="#b0b0b0" shape-rendering="crispEdges"/><line x1="226.5" x2="226.5" y1="584" y2="585.5" stroke="#b0b0b0" shape-rendering="crispEdges"/><line x1="231.5" x2="231.5" y1="584" y2="585.5" stroke="#b0b0b0" shape-rendering="crispEdges"/><line x1="236.5" x2="236.5" y1="584" y2="585.5" stroke="#b0b0b0" shape-rendering="crispEdges"/><line x1="241.5" x2="241.5" y1="584" y2="585.5" stroke="#b0b0b0" shape-rendering="crispEdges"/><line x1="246.5" x2="246.5" y1="584" y2="585.5" stroke="#b0b0b0" shape-rendering="crispEdges"/><line x1="251.5" x2="251.5" y1="584" y2="585.5" stroke="#b0b0b0" shape-rendering="crispEdges"/><line x1="256.5" x2="256.5" y1="584" y2="585.5" stroke="#b0b0b0" shape-rendering="crispEdges"/><line x1="261.5" x2="261.5" y1="584" y2="585.5" stroke="#b0b0b0" shape-rendering="crispEdges"/><line x1="266.5" x2="266.5" y1="584" y2="585.5" stroke="#b0b0b0" shape-rendering="crispEdges"/><line x1="271.5" x2="271.5" y1="584" y2="585.5" stroke="#b0b0b0" shape-rendering="crispEdges"/><line x1="276.5" x2="276.5" y1="584" y2="585.5" stroke="#b0b0b0" shape-rendering="crispEdges"/><line x1="281.5" x2="281.5" y1="584" y2="585.5" stroke="#b0b0b0" shape-rendering="crispEdges"/><line x1="286.5" x2="286.5" y1="584" y2="585.5" stroke="#b0b0b0" shape-rendering="crispEdges"/><line x1="291.5" x2="291.5" y1="584" y2="585.5" stroke="#b0b0b0" shape-rendering="crispEdges"/><line x1="296.5" x2="296.5" y1="584" y2="585.5" stroke="#b0b0b0" shape-rendering="crispEdges"/><line x1="301.5" x2="301.5" y1="584" y2="585.5" stroke="#b0b0b0" shape-rendering="crispEdges"/><line x1="306.5" x2="306.5" y1="584" y2="585.5" stroke="#b0b0b0" shape-rendering="crispEdges"/><line x1="311.5" x2="311.5" y1="584" y2="585.5" stroke="#b0b0b0" shape-rendering="crispEdges"/><line x1="316.5" x2="316.5" y1="584" y2="585.5" stroke="#b0b0b0" shape-rendering="crispEdges"/><line x1="321.5" x2="321.5" y1="584" y2="585.5" stroke="#b0b0b0" shape-rendering="crispEdges"/><line x1="326.5" x2="326.5" y1="584" y2="585.5" stroke="#b0b0b0" shape-rendering="crispEdges"/><line x1="331.5" x2="331.5" y1="584" y2="585.5" stroke="#b0b0b0" shape-rendering="crispEdges"/><line x1="336.5" x2="336.5" y1="584" y2="585.5" stroke="#b0b0b0" shape-rendering="crispEdges"/><line x1="341.5" x2="341.5" y1="584" y2="585.5" stroke="#b0b0b0" shape-rendering="crispEdges"/><line x1="346.5" x2="346.5" y1="584" y2="585.5" stroke="#b0b0b0" shape-rendering="crispEdges"/><line x1="351.5" x2="351.5" y1="584" y2="585.5" stroke="#b0b0b0" shape-rendering="crispEdges"/><line x1="356.5" x2="356.5" y1="584" y2="585.5" stroke="#b0b0b0" shape-rendering="crispEdges"/><line x1="361.5" x2="361.5" y1="584" y2="585.5" stroke="#b0b0b0" shape-rendering="crispEdges"/><line x1="366.5" x2="366.5" y1="584" y2="585.5" stroke="#b0b0b0" shape-rendering="crispEdges"/><line x1="371.5" x2="371.5" y1="584" y2="585.5" stroke="#b0b0b0" shape-rendering="crispEdges"/><line x1="376.5" x2="376.5" y1="584" y2="585.5" stroke="#b0b0b0" shape-rendering="crispEdges"/><line x1="381.5" x2="381.5" y1="584" y2="585.5" stroke="#b0b0b0" shape-rendering="crispEdges"/><line x1="386.5" x2="386.5" y1="584" y2="585.5" stroke="#b0b0b0" shape-rendering="crispEdges"/><line x1="391.5" x2="391.5" y1="584" y2="585.5" stroke="#b0b0b0" shape-rendering="crispEdges"/><line x1="396.5" x2="396.5" y1="584" y2="585.5" stroke="#b0b0b0" shape-rendering="crispEdges"/><line x1="401.5" x2="401.5" y1="584" y2="585.5" stroke="#b0b0b0" shape-rendering="crispEdges"/><line x1="406.5" x2="406.5" y1="584" y2="585.5" stroke="#b0b0b0" shape-rendering="crispEdges"/><line x1="411.5" x2="411.5" y1="584" y2="585.5" stroke="#b0b0b0" shape-rendering="crispEdges"/><line x1="416.5" x2="416.5" y1="584" y2="585.5" stroke="#b0b0b0" shape-rendering="crispEdges"/><line x1="421.5" x2="421.5" y1="584" y2="585.5" stroke="#b0b0b0" shape-rendering="crispEdges"/><line x1="426.5" x2="426.5" y1="584" y2="585.5" stroke="#b0b0b0" shape-rendering="crispEdges"/><line x1="431.5" x2="431.5" y1="584" y2="585.5" stroke="#b0b0b0" shape-rendering="crispEdges"/><line x1="436.5" x2="436.5" y1="584" y2="585.5" stroke="#b0b0b0" shape-rendering="crispEdges"/><line x1="441.5" x2="441.5" y1="584" y2="585.5" stroke="#b0b0b0" shape-rendering="crispEdges"/><line x1="446.5" x2="446.5" y1="584" y2="585.5" stroke="#b0b0b0" shape-rendering="crispEdges"/><line x1="451.5" x2="451.5" y1="584" y2="585.5" stroke="#b0b0b0" shape-rendering="crispEdges"/><line x1="456.5" x2="456.5" y1="584" y2="585.5" stroke="#b0b0b0" shape-rendering="crispEdges"/><line x1="461.5" x2="461.5" y1="584" y2="585.5" stroke="#b0b0b0" shape-rendering="crispEdges"/><line x1="466.5" x2="466.5" y1="584" y2="585.5" stroke="#b0b0b0" shape-rendering="crispEdges"/><line x1="471.5" x2="471.5" y1="584" y2="585.5" stroke="#b0b0b0" shape-rendering="crispEdges"/><line x1="476.5" x2="476.5" y1="584" y2="585.5" stroke="#b0b0b0" shape-rendering="crispEdges"/><line x1="481.5" x2="481.5" y1="584" y2="585.5" stroke="#b0b0b0" shape-rendering="crispEdges"/><line x1="486.5" x2="486.5" y1="584" y2="585.5" stroke="#b0b0b0" shape-rendering="crispEdges"/><line x1="491.5" x2="491.5" y1="584" y2="585.5" stroke="#b0b0b0" shape-rendering="crispEdges"/><line x1="496.5" x2="496.5" y1="584" y2="585.5" stroke="#b0b0b0" shape-rendering="crispEdges"/><line x1="501.5" x2="501.5" y1="584" y2="585.5" stroke="#b0b0b0" shape-rendering="crispEdges"/><line x1="506.5" x2="506.5" y1="584" y2="585.5" stroke="#b0b0b0" shape-rendering="crispEdges"/><line x1="511.5" x2="511.5" y1="584" y2="585.5" stroke="#b0b0b0" shape-rendering="crispEdges"/><line x1="516.5" x2="516.5" y1="584" y2="585.5" stroke="#b0b0b0" shape-rendering="crispEdges"/><line x1="521.5" x2="521.5" y1="584" y2="585.5" stroke="#b0b0b0" shape-rendering="crispEdges"/><line x1="526.5" x2="526.5" y1="584" y2="585.5" stroke="#b0b0b0" shape-rendering="crispEdges"/><line x1="531.5" x2="531.5" y1="584" y2="585.5" stroke="#b0b0b0" shape-rendering="crispEdges"/><line x1="536.5" x2="536.5" y1="584" y2="585.5" stroke="#b0b0b0" shape-rendering="crispEdges"/><line x1="541.5" x2="541.5" y1="584" y2="585.5" stroke="#b0b0b0" shape-rendering="crispEdges"/><line x1="546.5" x2="546.5" y1="584" y2="585.5" stroke="#b0b0b0" shape-rendering="crispEdges"/><line x1="551.5" x2="551.5" y1="584" y2="585.5" stroke="#b0b0b0" shape-rendering="crispEdges"/><line x1="556.5" x2="556.5" y1="584" y2="585.5" stroke="#b0b0b0" shape-rendering="crispEdges"/><line x1="561.5" x2="561.5" y1="584" y2="585.5" stroke="#b0b0b0" shape-rendering="crispEdges"/><line x1="566.5" x2="566.5" y1="584" y2="585.5" stroke="#b0b0b0" shape-rendering="crispEdges"/><line x1="571.5" x2="571.5" y1="584" y2="585.5" stroke="#b0b0b0" shape-rendering="crispEdges"/><line x1="576.5" x2="576.5" y1="584" y2="585.5" stroke="#b0b0b0" shape-rendering="crispEdges"/><line x1="581.5" x2="581.5" y1="584" y2="585.5" stroke="#b0b0b0" shape-rendering="crispEdges"/><line x1="586.5" x2="586.5" y1="584" y2="585.5" stroke="#b0b0b0" shape-rendering="crispEdges"/><line x1="591.5" x2="591.5" y1="584" y2="585.5" stroke="#b0b0b0" shape-rendering="crispEdges"/><line x1="596.5" x2="596.5" y1="584" y2="585.5" stroke="#b0b0b0" shape-rendering="crispEdges"/><line x1="601.5" x2="601.5" y1="584" y2="585.5" stroke="#b0b0b0" shape-rendering="crispEdges"/><line x1="606.5" x2="606.5" y1="584" y2="585.5" stroke="#b0b0b0" shape-rendering="crispEdges"/><line x1="611.5" x2="611.5" y1="584" y2="585.5" stroke="#b0b0b0" shape-rendering="crispEdges"/><line x1="616.5" x2="616.5" y1="584" y2="585.5" stroke="#b0b0b0" shape-rendering="crispEdges"/><line x1="621.5" x2="621.5" y1="584" y2="585.5" stroke="#b0b0b0" shape-rendering="crispEdges"/><line x1="626.5" x2="626.5" y1="584" y2="585.5" stroke="#b0b0b0" shape-rendering="crispEdges"/><line x1="631.5" x2="631.5" y1="584" y2="585.5" stroke="#b0b0b0" shape-rendering="crispEdges"/><line x1="636.5" x2="636.5" y1="584" y2="585.5" stroke="#b0b0b0" shape-rendering="crispEdges"/><line x1="641.5" x2="641.5" y1="584" y2="585.5" stroke="#b0b0b0" shape-rendering="crispEdges"/><line x1="646.5" x2="646.5" y1="584" y2="585.5" stroke="#b0b0b0" shape-rendering="crispEdges"/><line x1="651.5" x2="651.5" y1="584" y2="585.5" stroke="#b0b0b0" shape-rendering="crispEdges"/><line x1="656.5" x2="656.5" y1="584" y2="585.5" stroke="#b0b0b0" shape-rendering="crispEdges"/><line x1="661.5" x2="661.5" y1="584" y2="585.5" stroke="#b0b0b0" shape-rendering="crispEdges"/><line x1="666.5" x2="666.5" y1="584" y2="585.5" stroke="#b0b0b0" shape-rendering="crispEdges"/><line x1="671.5" x2="671.5" y1="584" y2="585.5" stroke="#b0b0b0" shape-rendering="crispEdges"/><line x1="676.5" x2="676.5" y1="584" y2="585.5" stroke="#b0b0b0" shape-rendering="crispEdges"/><line x1="681.5" x2="681.5" y1="584" y2="585.5" stroke="#b0b0b0" shape-rendering="crispEdges"/><line x1="686.5" x2="686.5" y1="584" y2="585.5" stroke="#b0b0b0" shape-rendering="crispEdges"/><line x1="691.5" x2="691.5" y1="584" y2="585.5" stroke="#b0b0b0" shape-rendering="crispEdges"/><line x1="696.5" x2="696.5" y1="584" y2="585.5" stroke="#b0b0b0" shape-rendering="crispEdges"/><line x1="701.5" x2="701.5" y1="584" y2="585.5" stroke="#b0b0b0" shape-rendering="crispEdges"/><line x1="706.5" x2="706.5" y1="584" y2="585.5" stroke="#b0b0b0" shape-rendering="crispEdges"/><line x1="711.5" x2="711.5" y1="584" y2="585.5" stroke="#b0b0b0" shape-rendering="crispEdges"/><line x1="716.5" x2="716.5" y1="584" y2="585.5" stroke="#b0b0b0" shape-rendering="crispEdges"/><line x1="721.5" x2="721.5" y1="584" y2="585.5" stroke="#b0b0b0" shape-rendering="crispEdges"/><line x1="726.5" x2="726.5" y1="584" y2="585.5" stroke="#b0b0b0" shape-rendering="crispEdges"/><line x1="731.5" x2="731.5" y1="584" y2="585.5" stroke="#b0b0b0" shape-rendering="crispEdges"/><line x1="736.5" x2="736.5" y1="584" y2="585.5" stroke="#b0b0b0" shape-rendering="crispEdges"/><line x1="741.5" x2="741.5" y1="584" y2="585.5" stroke="#b0b0b0" shape-rendering="crispEdges"/><line x1="746.5" x2="746.5" y1="584" y2="585.5" stroke="#b0b0b0" shape-rendering="crispEdges"/><line x1="751.5" x2="751.5" y1="584" y2="585.5" stroke="#b0b0b0" shape-rendering="crispEdges"/><line x1="756.5" x2="756.5" y1="584" y2="585.5" stroke="#b0b0b0" shape-rendering="crispEdges"/><line x1="761.5" x2="761.5" y1="584" y2="585.5" stroke="#b0b0b0" shape-rendering="crispEdges"/><line x1="766.5" x2="766.5" y1="584" y2="585.5" stroke="#b0b0b0" shape-rendering="crispEdges"/><line x1="771.5" x2="771.5" y1="584" y2="585.5" stroke="#b0b0b0" shape-rendering="crispEdges"/><line x1="776.5" x2="776.5" y1="584" y2="585.5" stroke="#b0b0b0" shape-rendering="crispEdges"/><line x1="781.5" x2="781.5" y1="584" y2="585.5" stroke="#b0b0b0" shape-rendering="crispEdges"/><line x1="786.5" x2="786.5" y1="584" y2="585.5" stroke="#b0b0b0" shape-rendering="crispEdges"/><line x1="791.5" x2="791.5" y1="584" y2="585.5" stroke="#b0b0b0" shape-rendering="crispEdges"/><line x1="796.5" x2="796.5" y1="584" y2="585.5" stroke="#b0b0b0" shape-rendering="crispEdges"/><line x1="801.5" x2="801.5" y1="584" y2="585.5" stroke="#b0b0b0" shape-rendering="crispEdges"/><line x1="806.5" x2="806.5" y1="584" y2="585.5" stroke="#b0b0b0" shape-rendering="crispEdges"/><line x1="811.5" x2="811.5" y1="584" y2="585.5" stroke="#b0b0b0" shape-rendering="crispEdges"/><line x1="816.5" x2="816.5" y1="584" y2="585.5" stroke="#b0b0b0" shape-rendering="crispEdges"/><line x1="821.5" x2="821.5" y1="584" y2="585.5" stroke="#b0b0b0" shape-rendering="crispEdges"/><line x1="826.5" x2="826.5" y1="584" y2="585.5" stroke="#b0b0b0" shape-rendering="crispEdges"/><line x1="831.5" x2="831.5" y1="584" y2="585.5" stroke="#b0b0b0" shape-rendering="crispEdges"/><line x1="836.5" x2="836.5" y1="584" y2="585.5" stroke="#b0b0b0" shape-rendering="crispEdges"/><line x1="841.5" x2="841.5" y1="584" y2="585.5" stroke="#b0b0b0" shape-rendering="crispEdges"/><line x1="846.5" x2="846.5" y1="584" y2="585.5" stroke="#b0b0b0" shape-rendering="crispEdges"/><line x1="851.5" x2="851.5" y1="584" y2="585.5" stroke="#b0b0b0" shape-rendering="crispEdges"/><line x1="856.5" x2="856.5" y1="584" y2="585.5" stroke="#b0b0b0" shape-rendering="crispEdges"/><line x1="861.5" x2="861.5" y1="584" y2="585.5" stroke="#b0b0b0" shape-rendering="crispEdges"/><line x1="866.5" x2="866.5" y1="584" y2="585.5" stroke="#b0b0b0" shape-rendering="crispEdges"/><line x1="871.5" x2="871.5" y1="584" y2="585.5" stroke="#b0b0b0" shape-rendering="crispEdges"/><line x1="876.5" x2="876.5" y1="584" y2="585.5" stroke="#b0b0b0" shape-rendering="crispEdges"/><line x1="881.5" x2="881.5" y1="584" y2="585.5" stroke="#b0b0b0" shape-rendering="crispEdges"/><line x1="886.5" x2="886.5" y1="584" y2="585.5" stroke="#b0b0b0" shape-rendering="crispEdges"/><line x1="891.5" x2="891.5" y1="584" y2="585.5" stroke="#b0b0b0" shape-rendering="crispEdges"/><line x1="896.5" x2="896.5" y1="584" y2="585.5" stroke="#b0b0b0" shape-rendering="crispEdges"/><line x1="901.5" x2="901.5" y1="584" y2="585.5" stroke="#b0b0b0" shape-rendering="crispEdges"/><line x1="906.5" x2="906.5" y1="584" y2="585.5" stroke="#b0b0b0" shape-rendering="crispEdges"/><line x1="911.5" x2="911.5" y1="584" y2="585.5" stroke="#b0b0b0" shape-rendering="crispEdges"/><line x1="916.5" x2="916.5" y1="584" y2="585.5" stroke="#b0b0b0" shape-rendering="crispEdges"/><line x1="921.5" x2="921.5" y1="584" y2="585.5" stroke="#b0b0b0" shape-rendering="crispEdges"/><line x1="926.5" x2="926.5" y1="584" y2="585.5" stroke="#b0b0b0" shape-rendering="crispEdges"/><line x1="931.5" x2="931.5" y1="584" y2="585.5" stroke="#b0b0b0" shape-rendering="crispEdges"/><line x1="936.5" x2="936.5" y1="584" y2="585.5" stroke="#b0b0b0" shape-rendering="crispEdges"/><line x1="941.5" x2="941.5" y1="584" y2="585.5" stroke="#b0b0b0" shape-rendering="crispEdges"/><line x1="946.5" x2="946.5" y1="584" y2="585.5" stroke="#b0b0b0" shape-rendering="crispEdges"/><line x1="951.5" x2="951.5" y1="584" y2="585.5" stroke="#b0b0b0" shape-rendering="crispEdges"/>
<text x="57" y="594.5" font-size="11" font-weight="bold" text-anchor="middle">Apr</text>
<text x="167" y="594.5" font-size="11" font-weight="bold" text-anchor="middle">May</text>
<text x="272" y="594.5" font-size="11" font-weight="bold" text-anchor="middle">Jun</text>
<text x="377" y="594.5" font-size="11" font-weight="bold" text-anchor="middle">Jul</text>
<text x="487" y="594.5" font-size="11" font-weight="bold" text-anchor="middle">Aug</text>
<text x="592" y="594.5" font-size="11" font-weight="bold" text-anchor="middle">Sep</text>
<text x="697" y="594.5" font-size="11" font-weight="bold" text-anchor="middle">Oct</text>
<text x="812" y="594.5" font-size="11" font-weight="bold" text-anchor="middle">Nov</text>
<text x="907" y="594.5" font-size="11" font-weight="bold" text-anchor="middle">Dec</text>
<text x="76.2" y="594.5" font-size="10" text-anchor="middle">7</text>
<text x="101.2" y="594.5" font-size="10" text-anchor="middle">14</text>
<text x="126.2" y="594.5" font-size="10" text-anchor="middle">21</text>
<text x="201.2" y="594.5" font-size="10" text-anchor="middle">12</text>
<text x="226.2" y="594.5" font-size="10" text-anchor="middle">19</text>
<text x="251.2" y="594.5" font-size="10" text-anchor="middle">27</text>
<text x="296.2" y="594.5" font-size="10" text-anchor="middle">9</text>
<text x="321.2" y="594.5" font-size="10" text-anchor="middle">16</text>
<text x="346.2" y="594.5" font-size="10" text-anchor="middle">23</text>
<text x="391.2" y="594.5" font-size="10" text-anchor="middle">7</text>
<text x="416.2" y="594.5" font-size="10" text-anchor="middle">14</text>
<text x="441.2" y="594.5" font-size="10" text-anchor="middle">21</text>
<text x="466.2" y="594.5" font-size="10" text-anchor="middle">28</text>
<text x="516.2" y="594.5" font-size="10" text-anchor="middle">11</text>
<text x="541.2" y="594.5" font-size="10" text-anchor="middle">18</text>
<text x="566.2" y="594.5" font-size="10" text-anchor="middle">25</text>
<text x="611.2" y="594.5" font-size="10" text-anchor="middle">8</text>
<text x="636.2" y="594.5" font-size="10" text-anchor="middle">15</text>
<text x="661.2" y="594.5" font-size="10" text-anchor="middle">22</text>
<text x="711.2" y="594.5" font-size="10" text-anchor="middle">6</text>
<text x="736.2" y="594.5" font-size="10" text-anchor="middle">13</text>
<text x="761.2" y="594.5" font-size="10" text-anchor="middle">20</text>
<text x="786.2" y="594.5" font-size="10" text-anchor="middle">27</text>
<text x="836.2" y="594.5" font-size="10" text-anchor="middle">10</text>
<text x="861.2" y="594.5" font-size="10" text-anchor="middle">17</text>
<text x="886.2" y="594.5" font-size="10" text-anchor="middle">24</text>
<text x="931.2" y="594.5" font-size="10" text-anchor="middle">8</text>
<line x1="46.5" x2="46.5" y1="948" y2="949.5" stroke="#b0b0b0" shape-rendering="crispEdges"/><line x1="51.5" x2="51.5" y1="948" y2="949.5" stroke="#b0b0b0" shape-rendering="crispEdges"/><line x1="56.5" x2="56.5" y1="948" y2="949.5" stroke="#b0b0b0" shape-rendering="crispEdges"/><line x1="61.5" x2="61.5" y1="948" y2="949.5" stroke="#b0b0b0" shape-rendering="crispEdges"/><line x1="66.5" x2="66.5" y1="948" y2="949.5" stroke="#b0b0b0" shape-rendering="crispEdges"/><line x1="71.5" x2="71.5" y1="948" y2="949.5" stroke="#b0b0b0" shape-rendering="crispEdges"/><line x1="76.5" x2="76.5" y1="948" y2="949.5" stroke="#b0b0b0" shape-rendering="crispEdges"/><line x1="81.5" x2="81.5" y1="948" y2="949.5" stroke="#b0b0b0" shape-rendering="crispEdges"/><line x1="86.5" x2="86.5" y1="948" y2="949.5" stroke="#b0b0b0" shape-rendering="crispEdges"/><line x1="91.5" x2="91.5" y1="948" y2="949.5" stroke="#b0b0b0" shape-rendering="crispEdges"/><line x1="96.5" x2="96.5" y1="948" y2="949.5" stroke="#b0b0b0" shape-rendering="crispEdges"/><line x1="101.5" x2="101.5" y1="948" y2="949.5" stroke="#b0b0b0" shape-rendering="crispEdges"/><line x1="106.5" x2="106.5" y1="948" y2="949.5" stroke="#b0b0b0" shape-rendering="crispEdges"/><line x1="111.5" x2="111.5" y1="948" y2="949.5" stroke="#b0b0b0" shape-rendering="crispEdges"/><line x1="116.5" x2="116.5" y1="948" y2="949.5" stroke="#b0b0b0" shape-rendering="crispEdges"/><line x1="121.5" x2="121.5" y1="948" y2="949.5" stroke="#b0b0b0" shape-rendering="crispEdges"/><line x1="126.5" x2="126.5" y1="948" y2="949.5" stroke="#b0b0b0" shape-rendering="crispEdges"/><line x1="131.5" x2="131.5" y1="948" y2="949.5" stroke="#b0b0b0" shape-rendering="crispEdges"/><line x1="136.5" x2="136.5" y1="948" y2="949.5" stroke="#b0b0b0" shape-rendering="crispEdges"/><line x1="141.5" x2="141.5" y1="948" y2="949.5" stroke="#b0b0b0" shape-rendering="crispEdges"/><line x1="146.5" x2="146.5" y1="948" y2="949.5" stroke="#b0b0b0" shape-rendering="crispEdges"/><line x1="151.5" x2="151.5" y1="948" y2="949.5" stroke="#b0b0b0" shape-rendering="crispEdges"/><line x1="156.5" x2="156.5" y1="948" y2="949.5" stroke="#b0b0b0" shape-rendering="crispEdges"/><line x1="161.5" x2="161.5" y1="948" y2="949.5" stroke="#b0b0b0" shape-rendering="crispEdges"/><line x1="166.5" x2="166.5" y1="948" y2="949.5" stroke="#b0b0b0" shape-rendering="crispEdges"/><line x1="171.5" x2="171.5" y1="948" y2="949.5" stroke="#b0b0b0" shape-rendering="crispEdges"/><line x1="176.5" x2="176.5" y1="948" y2="949.5" stroke="#b0b0b0" shape-rendering="crispEdges"/><line x1="181.5" x2="181.5" y1="948" y2="949.5" stroke="#b0b0b0" shape-rendering="crispEdges"/><line x1="186.5" x2="186.5" y1="948" y2="949.5" stroke="#b0b0b0" shape-rendering="crispEdges"/><line x1="191.5" x2="191.5" y1="948" y2="949.5" stroke="#b0b0b0" shape-rendering="crispEdges"/><line x1="196.5" x2="196.5" y1="948" y2="949.5" stroke="#b0b0b0" shape-rendering="crispEdges"/><line x1="201.5" x2="201.5" y1="948" y2="949.5" stroke="#b0b0b0" shape-rendering="crispEdges"/><line x1="206.5" x2="206.5" y1="948" y2="949.5" stroke="#b0b0b0" shape-rendering="crispEdges"/><line x1="211.5" x2="211.5" y1="948" y2="949.5" stroke="#b0b0b0" shape-rendering="crispEdges"/><line x1="216.5" x2="216.5" y1="948" y2="949.5" stroke="#b0b0b0" shape-rendering="crispEdges"/><line x1="221.5" x2="221.5" y1="948" y2="949.5" stroke="#b0b0b0" shape-rendering="crispEdges"/><line x1="226.5" x2="226.5" y1="948" y2="949.5" stroke="#b0b0b0" shape-rendering="crispEdges"/><line x1="231.5" x2="231.5" y1="948" y2="949.5" stroke="#b0b0b0" shape-rendering="crispEdges"/><line x1="236.5" x2="236.5" y1="948" y2="949.5" stroke="#b0b0b0" shape-rendering="crispEdges"/><line x1="241.5" x2="241.5" y1="948" y2="949.5" stroke="#b0b0b0" shape-rendering="crispEdges"/><line x1="246.5" x2="246.5" y1="948" y2="949.5" stroke="#b0b0b0" shape-rendering="crispEdges"/><line x1="251.5" x2="251.5" y1="948" y2="949.5" stroke="#b0b0b0" shape-rendering="crispEdges"/><line x1="256.5" x2="256.5" y1="948" y2="949.5" stroke="#b0b0b0" shape-rendering="crispEdges"/><line x1="261.5" x2="261.5" y1="948" y2="949.5" stroke="#b0b0b0" shape-rendering="crispEdges"/><line x1="266.5" x2="266.5" y1="948" y2="949.5" stroke="#b0b0b0" shape-rendering="crispEdges"/><line x1="271.5" x2="271.5" y1="948" y2="949.5" stroke="#b0b0b0" shape-rendering="crispEdges"/><line x1="276.5" x2="276.5" y1="948" y2="949.5" stroke="#b0b0b0" shape-rendering="crispEdges"/><line x1="281.5" x2="281.5" y1="948" y2="949.5" stroke="#b0b0b0" shape-rendering="crispEdges"/><line x1="286.5" x2="286.5" y1="948" y2="949.5" stroke="#b0b0b0" shape-rendering="crispEdges"/><line x1="291.5" x2="291.5" y1="948" y2="949.5" stroke="#b0b0b0" shape-rendering="crispEdges"/><line x1="296.5" x2="296.5" y1="948" y2="949.5" stroke="#b0b0b0" shape-rendering="crispEdges"/><line x1="301.5" x2="301.5" y1="948" y2="949.5" stroke="#b0b0b0" shape-rendering="crispEdges"/><line x1="306.5" x2="306.5" y1="948" y2="949.5" stroke="#b0b0b0" shape-rendering="crispEdges"/><line x1="311.5" x2="311.5" y1="948" y2="949.5" stroke="#b0b0b0" shape-rendering="crispEdges"/><line x1="316.5" x2="316.5" y1="948" y2="949.5" stroke="#b0b0b0" shape-rendering="crispEdges"/><line x1="321.5" x2="321.5" y1="948" y2="949.5" stroke="#b0b0b0" shape-rendering="crispEdges"/><line x1="326.5" x2="326.5" y1="948" y2="949.5" stroke="#b0b0b0" shape-rendering="crispEdges"/><line x1="331.5" x2="331.5" y1="948" y2="949.5" stroke="#b0b0b0" shape-rendering="crispEdges"/><line x1="336.5" x2="336.5" y1="948" y2="949.5" stroke="#b0b0b0" shape-rendering="crispEdges"/><line x1="341.5" x2="341.5" y1="948" y2="949.5" stroke="#b0b0b0" shape-rendering="crispEdges"/><line x1="346.5" x2="346.5" y1="948" y2="949.5" stroke="#b0b0b0" shape-rendering="crispEdges"/><line x1="351.5" x2="351.5" y1="948" y2="949.5" stroke="#b0b0b0" shape-rendering="crispEdges"/><line x1="356.5" x2="356.5" y1="948" y2="949.5" stroke="#b0b0b0" shape-rendering="crispEdges"/><line x1="361.5" x2="361.5" y1="948" y2="949.5" stroke="#b0b0b0" shape-rendering="crispEdges"/><line x1="366.5" x2="366.5" y1="948" y2="949.5" stroke="#b0b0b0" shape-rendering="crispEdges"/><line x1="371.5" x2="371.5" y1="948" y2="949.5" stroke="#b0b0b0" shape-rendering="crispEdges"/><line x1="376.5" x2="376.5" y1="948" y2="949.5" stroke="#b0b0b0" shape-rendering="crispEdges"/><line x1="381.5" x2="381.5" y1="948" y2="949.5" stroke="#b0b0b0" shape-rendering="crispEdges"/><line x1="386.5" x2="386.5" y1="948" y2="949.5" stroke="#b0b0b0" shape-rendering="crispEdges"/><line x1="391.5" x2="391.5" y1="948" y2="949.5" stroke="#b0b0b0" shape-rendering="crispEdges"/><line x1="396.5" x2="396.5" y1="948" y2="949.5" stroke="#b0b0b0" shape-rendering="crispEdges"/><line x1="401.5" x2="401.5" y1="948" y2="949.5" stroke="#b0b0b0" shape-rendering="crispEdges"/><line x1="406.5" x2="406.5" y1="948" y2="949.5" stroke="#b0b0b0" shape-rendering="crispEdges"/><line x1="411.5" x2="411.5" y1="948" y2="949.5" stroke="#b0b0b0" shape-rendering="crispEdges"/><line x1="416.5" x2="416.5" y1="948" y2="949.5" stroke="#b0b0b0" shape-rendering="crispEdges"/><line x1="421.5" x2="421.5" y1="948" y2="949.5" stroke="#b0b0b0" shape-rendering="crispEdges"/><line x1="426.5" x2="426.5" y1="948" y2="949.5" stroke="#b0b0b0" shape-rendering="crispEdges"/><line x1="431.5" x2="431.5" y1="948" y2="949.5" stroke="#b0b0b0" shape-rendering="crispEdges"/><line x1="436.5" x2="436.5" y1="948" y2="949.5" stroke="#b0b0b0" shape-rendering="crispEdges"/><line x1="441.5" x2="441.5" y1="948" y2="949.5" stroke="#b0b0b0" shape-rendering="crispEdges"/><line x1="446.5" x2="446.5" y1="948" y2="949.5" stroke="#b0b0b0" shape-rendering="crispEdges"/><line x1="451.5" x2="451.5" y1="948" y2="949.5" stroke="#b0b0b0" shape-rendering="crispEdges"/><line x1="456.5" x2="456.5" y1="948" y2="949.5" stroke="#b0b0b0" shape-rendering="crispEdges"/><line x1="461.5" x2="461.5" y1="948" y2="949.5" stroke="#b0b0b0" shape-rendering="crispEdges"/><line x1="466.5" x2="466.5" y1="948" y2="949.5" stroke="#b0b0b0" shape-rendering="crispEdges"/><line x1="471.5" x2="471.5" y1="948" y2="949.5" stroke="#b0b0b0" shape-rendering="crispEdges"/><line x1="476.5" x2="476.5" y1="948" y2="949.5" stroke="#b0b0b0" shape-rendering="crispEdges"/><line x1="481.5" x2="481.5" y1="948" y2="949.5" stroke="#b0b0b0" shape-rendering="crispEdges"/><line x1="486.5" x2="486.5" y1="948" y2="949.5" stroke="#b0b0b0" shape-rendering="crispEdges"/><line x1="491.5" x2="491.5" y1="948" y2="949.5" stroke="#b0b0b0" shape-rendering="crispEdges"/><line x1="496.5" x2="496.5" y1="948" y2="949.5" stroke="#b0b0b0" shape-rendering="crispEdges"/><line x1="501.5" x2="501.5" y1="948" y2="949.5" stroke="#b0b0b0" shape-rendering="crispEdges"/><line x1="506.5" x2="506.5" y1="948" y2="949.5" stroke="#b0b0b0" shape-rendering="crispEdges"/><line x1="511.5" x2="511.5" y1="948" y2="949.5" stroke="#b0b0b0" shape-rendering="crispEdges"/><line x1="516.5" x2="516.5" y1="948" y2="949.5" stroke="#b0b0b0" shape-rendering="crispEdges"/><line x1="521.5" x2="521.5" y1="948" y2="949.5" stroke="#b0b0b0" shape-rendering="crispEdges"/><line x1="526.5" x2="526.5" y1="948" y2="949.5" stroke="#b0b0b0" shape-rendering="crispEdges"/><line x1="531.5" x2="531.5" y1="948" y2="949.5" stroke="#b0b0b0" shape-rendering="crispEdges"/><line x1="536.5" x2="536.5" y1="948" y2="949.5" stroke="#b0b0b0" shape-rendering="crispEdges"/><line x1="541.5" x2="541.5" y1="948" y2="949.5" stroke="#b0b0b0" shape-rendering="crispEdges"/><line x1="546.5" x2="546.5" y1="948" y2="949.5" stroke="#b0b0b0" shape-rendering="crispEdges"/><line x1="551.5" x2="551.5" y1="948" y2="949.5" stroke="#b0b0b0" shape-rendering="crispEdges"/><line x1="556.5" x2="556.5" y1="948" y2="949.5" stroke="#b0b0b0" shape-rendering="crispEdges"/><line x1="561.5" x2="561.5" y1="948" y2="949.5" stroke="#b0b0b0" shape-rendering="crispEdges"/><line x1="566.5" x2="566.5" y1="948" y2="949.5" stroke="#b0b0b0" shape-rendering="crispEdges"/><line x1="571.5" x2="571.5" y1="948" y2="949.5" stroke="#b0b0b0" shape-rendering="crispEdges"/><line x1="576.5" x2="576.5" y1="948" y2="949.5" stroke="#b0b0b0" shape-rendering="crispEdges"/><line x1="581.5" x2="581.5" y1="948" y2="949.5" stroke="#b0b0b0" shape-rendering="crispEdges"/><line x1="586.5" x2="586.5" y1="948" y2="949.5" stroke="#b0b0b0" shape-rendering="crispEdges"/><line x1="591.5" x2="591.5" y1="948" y2="949.5" stroke="#b0b0b0" shape-rendering="crispEdges"/><line x1="596.5" x2="596.5" y1="948" y2="949.5" stroke="#b0b0b0" shape-rendering="crispEdges"/><line x1="601.5" x2="601.5" y1="948" y2="949.5" stroke="#b0b0b0" shape-rendering="crispEdges"/><line x1="606.5" x2="606.5" y1="948" y2="949.5" stroke="#b0b0b0" shape-rendering="crispEdges"/><line x1="611.5" x2="611.5" y1="948" y2="949.5" stroke="#b0b0b0" shape-rendering="crispEdges"/><line x1="616.5" x2="616.5" y1="948" y2="949.5" stroke="#b0b0b0" shape-rendering="crispEdges"/><line x1="621.5" x2="621.5" y1="948" y2="949.5" stroke="#b0b0b0" shape-rendering="crispEdges"/><line x1="626.5" x2="626.5" y1="948" y2="949.5" stroke="#b0b0b0" shape-rendering="crispEdges"/><line x1="631.5" x2="631.5" y1="948" y2="949.5" stroke="#b0b0b0" shape-rendering="crispEdges"/><line x1="636.5" x2="636.5" y1="948" y2="949.5" stroke="#b0b0b0" shape-rendering="crispEdges"/><line x1="641.5" x2="641.5" y1="948" y2="949.5" stroke="#b0b0b0" shape-rendering="crispEdges"/><line x1="646.5" x2="646.5" y1="948" y2="949.5" stroke="#b0b0b0" shape-rendering="crispEdges"/><line x1="651.5" x2="651.5" y1="948" y2="949.5" stroke="#b0b0b0" shape-rendering="crispEdges"/><line x1="656.5" x2="656.5" y1="948" y2="949.5" stroke="#b0b0b0" shape-rendering="crispEdges"/><line x1="661.5" x2="661.5" y1="948" y2="949.5" stroke="#b0b0b0" shape-rendering="crispEdges"/><line x1="666.5" x2="666.5" y1="948" y2="949.5" stroke="#b0b0b0" shape-rendering="crispEdges"/><line x1="671.5" x2="671.5" y1="948" y2="949.5" stroke="#b0b0b0" shape-rendering="crispEdges"/><line x1="676.5" x2="676.5" y1="948" y2="949.5" stroke="#b0b0b0" shape-rendering="crispEdges"/><line x1="681.5" x2="681.5" y1="948" y2="949.5" stroke="#b0b0b0" shape-rendering="crispEdges"/><line x1="686.5" x2="686.5" y1="948" y2="949.5" stroke="#b0b0b0" shape-rendering="crispEdges"/><line x1="691.5" x2="691.5" y1="948" y2="949.5" stroke="#b0b0b0" shape-rendering="crispEdges"/><line x1="696.5" x2="696.5" y1="948" y2="949.5" stroke="#b0b0b0" shape-rendering="crispEdges"/><line x1="701.5" x2="701.5" y1="948" y2="949.5" stroke="#b0b0b0" shape-rendering="crispEdges"/><line x1="706.5" x2="706.5" y1="948" y2="949.5" stroke="#b0b0b0" shape-rendering="crispEdges"/><line x1="711.5" x2="711.5" y1="948" y2="949.5" stroke="#b0b0b0" shape-rendering="crispEdges"/><line x1="716.5" x2="716.5" y1="948" y2="949.5" stroke="#b0b0b0" shape-rendering="crispEdges"/><line x1="721.5" x2="721.5" y1="948" y2="949.5" stroke="#b0b0b0" shape-rendering="crispEdges"/><line x1="726.5" x2="726.5" y1="948" y2="949.5" stroke="#b0b0b0" shape-rendering="crispEdges"/><line x1="731.5" x2="731.5" y1="948" y2="949.5" stroke="#b0b0b0" shape-rendering="crispEdges"/><line x1="736.5" x2="736.5" y1="948" y2="949.5" stroke="#b0b0b0" shape-rendering="crispEdges"/><line x1="741.5" x2="741.5" y1="948" y2="949.5" stroke="#b0b0b0" shape-rendering="crispEdges"/><line x1="746.5" x2="746.5" y1="948" y2="949.5" stroke="#b0b0b0" shape-rendering="crispEdges"/><line x1="751.5" x2="751.5" y1="948" y2="949.5" stroke="#b0b0b0" shape-rendering="crispEdges"/><line x1="756.5" x2="756.5" y1="948" y2="949.5" stroke="#b0b0b0" shape-rendering="crispEdges"/><line x1="761.5" x2="761.5" y1="948" y2="949.5" stroke="#b0b0b0" shape-rendering="crispEdges"/><line x1="766.5" x2="766.5" y1="948" y2="949.5" stroke="#b0b0b0" shape-rendering="crispEdges"/><line x1="771.5" x2="771.5" y1="948" y2="949.5" stroke="#b0b0b0" shape-rendering="crispEdges"/><line x1="776.5" x2="776.5" y1="948" y2="949.5" stroke="#b0b0b0" shape-rendering="crispEdges"/><line x1="781.5" x2="781.5" y1="948" y2="949.5" stroke="#b0b0b0" shape-rendering="crispEdges"/><line x1="786.5" x2="786.5" y1="948" y2="949.5" stroke="#b0b0b0" shape-rendering="crispEdges"/><line x1="791.5" x2="791.5" y1="948" y2="949.5" stroke="#b0b0b0" shape-rendering="crispEdges"/><line x1="796.5" x2="796.5" y1="948" y2="949.5" stroke="#b0b0b0" shape-rendering="crispEdges"/><line x1="801.5" x2="801.5" y1="948" y2="949.5" stroke="#b0b0b0" shape-rendering="crispEdges"/><line x1="806.5" x2="806.5" y1="948" y2="949.5" stroke="#b0b0b0" shape-rendering="crispEdges"/><line x1="811.5" x2="811.5" y1="948" y2="949.5" stroke="#b0b0b0" shape-rendering="crispEdges"/><line x1="816.5" x2="816.5" y1="948" y2="949.5" stroke="#b0b0b0" shape-rendering="crispEdges"/><line x1="821.5" x2="821.5" y1="948" y2="949.5" stroke="#b0b0b0" shape-rendering="crispEdges"/><line x1="826.5" x2="826.5" y1="948" y2="949.5" stroke="#b0b0b0" shape-rendering="crispEdges"/><line x1="831.5" x2="831.5" y1="948" y2="949.5" stroke="#b0b0b0" shape-rendering="crispEdges"/><line x1="836.5" x2="836.5" y1="948" y2="949.5" stroke="#b0b0b0" shape-rendering="crispEdges"/><line x1="841.5" x2="841.5" y1="948" y2="949.5" stroke="#b0b0b0" shape-rendering="crispEdges"/><line x1="846.5" x2="846.5" y1="948" y2="949.5" stroke="#b0b0b0" shape-rendering="crispEdges"/><line x1="851.5" x2="851.5" y1="948" y2="949.5" stroke="#b0b0b0" shape-rendering="crispEdges"/><line x1="856.5" x2="856.5" y1="948" y2="949.5" stroke="#b0b0b0" shape-rendering="crispEdges"/><line x1="861.5" x2="861.5" y1="948" y2="949.5" stroke="#b0b0b0" shape-rendering="crispEdges"/><line x1="866.5" x2="866.5" y1="948" y2="949.5" stroke="#b0b0b0" shape-rendering="crispEdges"/><line x1="871.5" x2="871.5" y1="948" y2="949.5" stroke="#b0b0b0" shape-rendering="crispEdges"/><line x1="876.5" x2="876.5" y1="948" y2="949.5" stroke="#b0b0b0" shape-rendering="crispEdges"/><line x1="881.5" x2="881.5" y1="948" y2="949.5" stroke="#b0b0b0" shape-rendering="crispEdges"/><line x1="886.5" x2="886.5" y1="948" y2="949.5" stroke="#b0b0b0" shape-rendering="crispEdges"/><line x1="891.5" x2="891.5" y1="948" y2="949.5" stroke="#b0b0b0" shape-rendering="crispEdges"/><line x1="896.5" x2="896.5" y1="948" y2="949.5" stroke="#b0b0b0" shape-rendering="crispEdges"/><line x1="901.5" x2="901.5" y1="948" y2="949.5" stroke="#b0b0b0" shape-rendering="crispEdges"/><line x1="906.5" x2="906.5" y1="948" y2="949.5" stroke="#b0b0b0" shape-rendering="crispEdges"/><line x1="911.5" x2="911.5" y1="948" y2="949.5" stroke="#b0b0b0" shape-rendering="crispEdges"/><line x1="916.5" x2="916.5" y1="948" y2="949.5" stroke="#b0b0b0" shape-rendering="crispEdges"/><line x1="921.5" x2="921.5" y1="948" y2="949.5" stroke="#b0b0b0" shape-rendering="crispEdges"/><line x1="926.5" x2="926.5" y1="948" y2="949.5" stroke="#b0b0b0" shape-rendering="crispEdges"/><line x1="931.5" x2="931.5" y1="948" y2="949.5" stroke="#b0b0b0" shape-rendering="crispEdges"/><line x1="936.5" x2="936.5" y1="948" y2="949.5" stroke="#b0b0b0" shape-rendering="crispEdges"/><line x1="941.5" x2="941.5" y1="948" y2="949.5" stroke="#b0b0b0" shape-rendering="crispEdges"/><line x1="946.5" x2="946.5" y1="948" y2="949.5" stroke="#b0b0b0" shape-rendering="crispEdges"/><line x1="951.5" x2="951.5" y1="948" y2="949.5" stroke="#b0b0b0" shape-rendering="crispEdges"/>
<text x="57" y="958.5" font-size="11" font-weight="bold" text-anchor="middle">Apr</text>
<text x="167" y="958.5" font-size="11" font-weight="bold" text-anchor="middle">May</text>
<text x="272" y="958.5" font-size="11" font-weight="bold" text-anchor="middle">Jun</text>
<text x="377" y="958.5" font-size="11" font-weight="bold" text-anchor="middle">Jul</text>
<text x="487" y="958.5" font-size="11" font-weight="bold" text-anchor="middle">Aug</text>
<text x="592" y="958.5" font-size="11" font-weight="bold" text-anchor="middle">Sep</text>
<text x="697" y="958.5" font-size="11" font-weight="bold" text-anchor="middle">Oct</text>
<text x="812" y="958.5" font-size="11" font-weight="bold" text-anchor="middle">Nov</text>
<text x="907" y="958.5" font-size="11" font-weight="bold" text-anchor="middle">Dec</text>
<text x="76.2" y="958.5" font-size="10" text-anchor="middle">7</text>
<text x="101.2" y="958.5" font-size="10" text-anchor="middle">14</text>
<text x="126.2" y="958.5" font-size="10" text-anchor="middle">21</text>
<text x="201.2" y="958.5" font-size="10" text-anchor="middle">12</text>
<text x="226.2" y="958.5" font-size="10" text-anchor="middle">19</text>
<text x="251.2" y="958.5" font-size="10" text-anchor="middle">27</text>
<text x="296.2" y="958.5" font-size="10" text-anchor="middle">9</text>
<text x="321.2" y="958.5" font-size="10" text-anchor="middle">16</text>
<text x="346.2" y="958.5" font-size="10" text-anchor="middle">23</text>
<text x="391.2" y="958.5" font-size="10" text-anchor="middle">7</text>
<text x="416.2" y="958.5" font-size="10" text-anchor="middle">14</text>
<text x="441.2" y="958.5" font-size="10" text-anchor="middle">21</text>
<text x="466.2" y="958.5" font-size="10" text-anchor="middle">28</text>
<text x="516.2" y="958.5" font-size="10" text-anchor="middle">11</text>
<text x="541.2" y="958.5" font-size="10" text-anchor="middle">18</text>
<text x="566.2" y="958.5" font-size="10" text-anchor="middle">25</text>
<text x="611.2" y="958.5" font-size="10" text-anchor="middle">8</text>
<text x="636.2" y="958.5" font-size="10" text-anchor="middle">15</text>
<text x="661.2" y="958.5" font-size="10" text-anchor="middle">22</text>
<text x="711.2" y="958.5" font-size="10" text-anchor="middle">6</text>
<text x="736.2" y="958.5" font-size="10" text-anchor="middle">13</text>
<text x="761.2" y="958.5" font-size="10" text-anchor="middle">20</text>
<text x="786.2" y="958.5" font-size="10" text-anchor="middle">27</text>
<text x="836.2" y="958.5" font-size="10" text-anchor="middle">10</text>
<text x="861.2" y="958.5" font-size="10" text-anchor="middle">17</text>
<text x="886.2" y="958.5" font-size="10" text-anchor="middle">24</text>
<text x="931.2" y="958.5" font-size="10" text-anchor="middle">8</text>
<g shape-rendering="crispEdges" stroke-width="1"><line x1="51.5" x2="51.5" y1="598.5" y2="803.5" stroke="rgba(0,0,0,0.135)"/><line x1="76.5" x2="76.5" y1="598.5" y2="803.5" stroke="rgba(0,0,0,0.135)"/><line x1="101.5" x2="101.5" y1="598.5" y2="803.5" stroke="rgba(0,0,0,0.135)"/><line x1="126.5" x2="126.5" y1="598.5" y2="803.5" stroke="rgba(0,0,0,0.135)"/><line x1="151.5" x2="151.5" y1="598.5" y2="803.5" stroke="rgba(0,0,0,0.135)"/><line x1="176.5" x2="176.5" y1="598.5" y2="803.5" stroke="rgba(0,0,0,0.135)"/><line x1="201.5" x2="201.5" y1="598.5" y2="803.5" stroke="rgba(0,0,0,0.135)"/><line x1="226.5" x2="226.5" y1="598.5" y2="803.5" stroke="rgba(0,0,0,0.135)"/><line x1="251.5" x2="251.5" y1="598.5" y2="803.5" stroke="rgba(0,0,0,0.135)"/><line x1="296.5" x2="296.5" y1="598.5" y2="803.5" stroke="rgba(0,0,0,0.135)"/><line x1="321.5" x2="321.5" y1="598.5" y2="803.5" stroke="rgba(0,0,0,0.135)"/><line x1="346.5" x2="346.5" y1="598.5" y2="803.5" stroke="rgba(0,0,0,0.135)"/><line x1="371.5" x2="371.5" y1="598.5" y2="803.5" stroke="rgba(0,0,0,0.135)"/><line x1="391.5" x2="391.5" y1="598.5" y2="803.5" stroke="rgba(0,0,0,0.135)"/><line x1="416.5" x2="416.5" y1="598.5" y2="803.5" stroke="rgba(0,0,0,0.135)"/><line x1="441.5" x2="441.5" y1="598.5" y2="803.5" stroke="rgba(0,0,0,0.135)"/><line x1="466.5" x2="466.5" y1="598.5" y2="803.5" stroke="rgba(0,0,0,0.135)"/><line x1="491.5" x2="491.5" y1="598.5" y2="803.5" stroke="rgba(0,0,0,0.135)"/><line x1="516.5" x2="516.5" y1="598.5" y2="803.5" stroke="rgba(0,0,0,0.135)"/><line x1="541.5" x2="541.5" y1="598.5" y2="803.5" stroke="rgba(0,0,0,0.135)"/><line x1="566.5" x2="566.5" y1="598.5" y2="803.5" stroke="rgba(0,0,0,0.135)"/><line x1="611.5" x2="611.5" y1="598.5" y2="803.5" stroke="rgba(0,0,0,0.135)"/><line x1="636.5" x2="636.5" y1="598.5" y2="803.5" stroke="rgba(0,0,0,0.135)"/><line x1="661.5" x2="661.5" y1="598.5" y2="803.5" stroke="rgba(0,0,0,0.135)"/><line x1="686.5" x2="686.5" y1="598.5" y2="803.5" stroke="rgba(0,0,0,0.135)"/><line x1="711.5" x2="711.5" y1="598.5" y2="803.5" stroke="rgba(0,0,0,0.135)"/><line x1="736.5" x2="736.5" y1="598.5" y2="803.5" stroke="rgba(0,0,0,0.135)"/><line x1="761.5" x2="761.5" y1="598.5" y2="803.5" stroke="rgba(0,0,0,0.135)"/><line x1="786.5" x2="786.5" y1="598.5" y2="803.5" stroke="rgba(0,0,0,0.135)"/><line x1="836.5" x2="836.5" y1="598.5" y2="803.5" stroke="rgba(0,0,0,0.135)"/><line x1="861.5" x2="861.5" y1="598.5" y2="803.5" stroke="rgba(0,0,0,0.135)"/><line x1="886.5" x2="886.5" y1="598.5" y2="803.5" stroke="rgba(0,0,0,0.135)"/><line x1="931.5" x2="931.5" y1="598.5" y2="803.5" stroke="rgba(0,0,0,0.135)"/><line x1="56.5" x2="56.5" y1="598.5" y2="803.5" stroke="rgba(0,0,0,0.25)"/><line x1="166.5" x2="166.5" y1="598.5" y2="803.5" stroke="rgba(0,0,0,0.25)"/><line x1="271.5" x2="271.5" y1="598.5" y2="803.5" stroke="rgba(0,0,0,0.25)"/><line x1="376.5" x2="376.5" y1="598.5" y2="803.5" stroke="rgba(0,0,0,0.25)"/><line x1="486.5" x2="486.5" y1="598.5" y2="803.5" stroke="rgba(0,0,0,0.25)"/><line x1="591.5" x2="591.5" y1="598.5" y2="803.5" stroke="rgba(0,0,0,0.25)"/><line x1="696.5" x2="696.5" y1="598.5" y2="803.5" stroke="rgba(0,0,0,0.25)"/><line x1="811.5" x2="811.5" y1="598.5" y2="803.5" stroke="rgba(0,0,0,0.25)"/><line x1="906.5" x2="906.5" y1="598.5" y2="803.5" stroke="rgba(0,0,0,0.25)"/></g>
<g shape-rendering="crispEdges" stroke-width="1" stroke="rgba(0,0,0,0.135)"><line x1="43.5" x2="958.5" y1="779.5" y2="779.5"/><line x1="43.5" x2="958.5" y1="751.5" y2="751.5"/><line x1="43.5" x2="958.5" y1="723.5" y2="723.5"/><line x1="43.5" x2="958.5" y1="695.5" y2="695.5"/><line x1="43.5" x2="958.5" y1="666.5" y2="666.5"/><line x1="43.5" x2="958.5" y1="638.5" y2="638.5"/><line x1="43.5" x2="958.5" y1="610.5" y2="610.5"/></g>
<g clip-path="url(#c3)">
<polyline points="41.5,742 46.5,743.2 51.5,745.1 56.5,748.3 61.5,749.1 66.5,751.3 71.5,752.8 76.5,753.9 81.5,755 86.5,756.1 91.5,757.4 96.5,758.1 101.5,758.7 106.5,758.7 111.5,759.7 116.5,760.6 121.5,761.4 126.5,762 131.5,762.5 136.5,763.4 141.5,764 146.5,765.4 151.5,766.8 156.5,767.6 161.5,767.5 166.5,768 171.5,768.7 176.5,769.3 181.5,770.2 186.5,770.4 191.5,770.6 196.5,770.6 201.5,771.3 206.5,772 211.5,773.1 216.5,773.9 221.5,774.5 226.5,775.1 231.5,775.3 236.5,775.7 241.5,776.2 246.5,776.1 251.5,775.5 256.5,775.1 261.5,775 266.5,774.5 271.5,773.3 276.5,772.2 281.5,771.2 286.5,771.1 291.5,769.3 296.5,768.1 301.5,766.9 306.5,765.2 311.5,763.4 316.5,762.3 321.5,761.9 326.5,761.6 331.5,761.1 336.5,760.2 341.5,760.4 346.5,760.6 351.5,760.8 356.5,761.8 361.5,761.6 366.5,760.9 371.5,759.9 376.5,759.1 381.5,757.8 386.5,756.7 391.5,755.8 396.5,755.6 401.5,754.6 406.5,753.2 411.5,752 416.5,750.2 421.5,748.7 426.5,748.2 431.5,748.5 436.5,748.8 441.5,749.7 446.5,750.4 451.5,751.7 456.5,752.4 461.5,754 466.5,755.4 471.5,757.6 476.5,758.9 481.5,759.6 486.5,760.1 491.5,759.9 496.5,759.9 501.5,760.3 506.5,761 511.5,761.8 516.5,763.2 521.5,763.5 526.5,763.3 531.5,764.2 536.5,765.3 541.5,766.1 546.5,766.1 551.5,766 556.5,766.5 561.5,767.1 566.5,766.8 571.5,767 576.5,767.7 581.5,768 586.5,767.6 591.5,767.3 596.5,767.2 601.5,766 606.5,764.9 611.5,763.6 616.5,762.1 621.5,760.7 626.5,759.1 631.5,757 636.5,753.3 641.5,750.5 646.5,745.4 651.5,742.4 656.5,739.3 661.5,735.5 666.5,732.1 671.5,728.5 676.5,725.6 681.5,722.6 686.5,717.5 691.5,714.4 696.5,713.3 701.5,709.2 706.5,704.8 711.5,698.6 716.5,692.5 721.5,685 726.5,674.5 731.5,662.6 736.5,659.9 741.5,654.6 746.5,644.7 751.5,637.2 756.5,628.7 761.5,628.5 766.5,628.8 771.5,624.7 776.5,623.4 781.5,620.3 786.5,611.7 791.5,607.8 796.5,607.6 801.5,609.2 806.5,612.6 811.5,612.3 816.5,614.1 821.5,619.2 826.5,620.6 831.5,628.3 836.5,635.1 841.5,637 846.5,638.2 851.5,639.2 856.5,637.1 861.5,631.9 866.5,625.3 871.5,618.5 876.5,612.8 881.5,607.1 886.5,605.5 891.5,605.7 896.5,609.6 901.5,610.9 906.5,610.3 911.5,612.4 916.5,614.7 921.5,618.3 926.5,625.2 931.5,630.1 936.5,632.1 941.5,633.8 946.5,633.5 951.5,634" fill="none" stroke="#ff0000" stroke-width="1.3" stroke-linejoin="round"/>
<polyline points="41.5,773.3 46.5,774.1 51.5,775.4 56.5,777.5 61.5,778.1 66.5,779.5 71.5,780.5 76.5,781.2 81.5,782 86.5,782.7 91.5,783.6 96.5,784 101.5,784.4 106.5,784.4 111.5,785.1 116.5,785.7 121.5,786.2 126.5,786.7 131.5,787 136.5,787.6 141.5,788 146.5,788.9 151.5,789.8 156.5,790.4 161.5,790.3 166.5,790.7 171.5,791.1 176.5,791.5 181.5,792.1 186.5,792.2 191.5,792.4 196.5,792.4 201.5,792.8 206.5,793.3 211.5,794 216.5,794.6 221.5,795 226.5,795.4 231.5,795.5 236.5,795.8 241.5,796.1 246.5,796.1 251.5,795.6 256.5,795.4 261.5,795.3 266.5,795 271.5,794.2 276.5,793.5 281.5,792.8 286.5,792.7 291.5,791.5 296.5,790.7 301.5,789.9 306.5,788.8 311.5,787.6 316.5,786.8 321.5,786.6 326.5,786.4 331.5,786.1 336.5,785.4 341.5,785.6 346.5,785.7 351.5,785.9 356.5,786.5 361.5,786.4 366.5,785.9 371.5,785.3 376.5,784.7 381.5,783.9 386.5,783.1 391.5,782.5 396.5,782.4 401.5,781.7 406.5,780.8 411.5,780 416.5,778.8 421.5,777.8 426.5,777.5 431.5,777.7 436.5,777.8 441.5,778.5 446.5,778.9 451.5,779.8 456.5,780.3 461.5,781.3 466.5,782.3 471.5,783.7 476.5,784.6 481.5,785.1 486.5,785.4 491.5,785.3 496.5,785.3 501.5,785.5 506.5,786 511.5,786.5 516.5,787.5 521.5,787.6 526.5,787.5 531.5,788.1 536.5,788.8 541.5,789.4 546.5,789.4 551.5,789.3 556.5,789.6 561.5,790.1 566.5,789.8 571.5,790 576.5,790.4 581.5,790.6 586.5,790.4 591.5,790.2 596.5,790.1 601.5,789.3 606.5,788.6 611.5,787.7 616.5,786.7 621.5,785.8 626.5,784.7 631.5,783.3 636.5,780.8 641.5,779 646.5,775.6 651.5,773.6 656.5,771.5 661.5,769 666.5,766.7 671.5,764.3 676.5,762.4 681.5,760.4 686.5,757 691.5,754.9 696.5,754.2 701.5,751.4 706.5,748.5 711.5,744.4 716.5,740.3 721.5,735.3 726.5,728.3 731.5,720.4 736.5,718.6 741.5,715 746.5,708.4 751.5,703.4 756.5,697.8 761.5,697.6 766.5,697.8 771.5,695.1 776.5,694.2 781.5,692.2 786.5,686.5 791.5,683.8 796.5,683.7 801.5,684.7 806.5,687 811.5,686.8 816.5,688 821.5,691.4 826.5,692.4 831.5,697.5 836.5,702.1 841.5,703.3 846.5,704.1 851.5,704.8 856.5,703.3 861.5,699.9 866.5,695.5 871.5,691 876.5,687.2 881.5,683.4 886.5,682.3 891.5,682.5 896.5,685 901.5,685.9 906.5,685.5 911.5,686.9 916.5,688.4 921.5,690.8 926.5,695.5 931.5,698.7 936.5,700 941.5,701.2 946.5,701 951.5,701.3" fill="none" stroke="#ff0000" stroke-width="1.3" stroke-linejoin="round"/>
<polyline points="41.5,749.8 46.5,750.9 51.5,752.7 56.5,755.6 61.5,756.3 66.5,758.4 71.5,759.7 76.5,760.7 81.5,761.8 86.5,762.8 91.5,763.9 96.5,764.6 101.5,765.1 106.5,765.1 111.5,766 116.5,766.9 121.5,767.6 126.5,768.2 131.5,768.6 136.5,769.4 141.5,770 146.5,771.3 151.5,772.5 156.5,773.3 161.5,773.2 166.5,773.7 171.5,774.3 176.5,774.8 181.5,775.7 186.5,775.8 191.5,776 196.5,776.1 201.5,776.7 206.5,777.3 211.5,778.3 216.5,779.1 221.5,779.6 226.5,780.2 231.5,780.4 236.5,780.7 241.5,781.2 246.5,781.1 251.5,780.5 256.5,780.2 261.5,780.1 266.5,779.6 271.5,778.6 276.5,777.5 281.5,776.6 286.5,776.5 291.5,774.8 296.5,773.8 301.5,772.7 306.5,771.1 311.5,769.5 316.5,768.4 321.5,768.1 326.5,767.8 331.5,767.4 336.5,766.5 341.5,766.7 346.5,766.8 351.5,767.1 356.5,768 361.5,767.8 366.5,767.2 371.5,766.2 376.5,765.5 381.5,764.3 386.5,763.3 391.5,762.5 396.5,762.3 401.5,761.4 406.5,760.1 411.5,759 416.5,757.4 421.5,756 426.5,755.5 431.5,755.8 436.5,756 441.5,756.9 446.5,757.5 451.5,758.7 456.5,759.4 461.5,760.8 466.5,762.1 471.5,764.1 476.5,765.4 481.5,766 486.5,766.4 491.5,766.3 496.5,766.2 501.5,766.6 506.5,767.3 511.5,768 516.5,769.3 521.5,769.5 526.5,769.4 531.5,770.2 536.5,771.2 541.5,771.9 546.5,771.9 551.5,771.9 556.5,772.3 561.5,772.8 566.5,772.6 571.5,772.8 576.5,773.4 581.5,773.6 586.5,773.3 591.5,773 596.5,772.9 601.5,771.8 606.5,770.8 611.5,769.6 616.5,768.2 621.5,767 626.5,765.5 631.5,763.6 636.5,760.2 641.5,757.6 646.5,753 651.5,750.2 656.5,747.4 661.5,743.9 666.5,740.7 671.5,737.4 676.5,734.8 681.5,732 686.5,727.4 691.5,724.6 696.5,723.5 701.5,719.7 706.5,715.7 711.5,710 716.5,704.5 721.5,697.6 726.5,687.9 731.5,677.1 736.5,674.5 741.5,669.7 746.5,660.6 751.5,653.8 756.5,646 761.5,645.8 766.5,646 771.5,642.3 776.5,641.1 781.5,638.3 786.5,630.4 791.5,626.8 796.5,626.6 801.5,628.1 806.5,631.2 811.5,630.9 816.5,632.6 821.5,637.2 826.5,638.5 831.5,645.6 836.5,651.9 841.5,653.6 846.5,654.7 851.5,655.6 856.5,653.6 861.5,648.9 866.5,642.8 871.5,636.7 876.5,631.4 881.5,626.2 886.5,624.7 891.5,624.9 896.5,628.4 901.5,629.7 906.5,629.1 911.5,631 916.5,633.1 921.5,636.4 926.5,642.8 931.5,647.3 936.5,649.1 941.5,650.7 946.5,650.4 951.5,650.9" fill="none" stroke="#00008b" stroke-width="1.3" stroke-linejoin="round"/>
<polyline points="41.5,765.5 46.5,766.4 51.5,767.8 56.5,770.2 61.5,770.8 66.5,772.5 71.5,773.6 76.5,774.4 81.5,775.2 86.5,776.1 91.5,777 96.5,777.6 101.5,778 106.5,778 111.5,778.7 116.5,779.5 121.5,780 126.5,780.5 131.5,780.9 136.5,781.5 141.5,782 146.5,783 151.5,784.1 156.5,784.7 161.5,784.6 166.5,785 171.5,785.5 176.5,785.9 181.5,786.6 186.5,786.8 191.5,786.9 196.5,787 201.5,787.4 206.5,788 211.5,788.8 216.5,789.4 221.5,789.9 226.5,790.3 231.5,790.5 236.5,790.8 241.5,791.1 246.5,791.1 251.5,790.6 256.5,790.3 261.5,790.2 266.5,789.8 271.5,789 276.5,788.2 281.5,787.4 286.5,787.3 291.5,786 296.5,785.1 301.5,784.2 306.5,782.9 311.5,781.6 316.5,780.7 321.5,780.4 326.5,780.2 331.5,779.8 336.5,779.1 341.5,779.3 346.5,779.4 351.5,779.6 356.5,780.4 361.5,780.2 366.5,779.7 371.5,778.9 376.5,778.3 381.5,777.4 386.5,776.5 391.5,775.8 396.5,775.7 401.5,775 406.5,773.9 411.5,773 416.5,771.7 421.5,770.5 426.5,770.1 431.5,770.4 436.5,770.6 441.5,771.3 446.5,771.8 451.5,772.8 456.5,773.3 461.5,774.5 466.5,775.6 471.5,777.2 476.5,778.2 481.5,778.7 486.5,779 491.5,778.9 496.5,778.9 501.5,779.2 506.5,779.7 511.5,780.3 516.5,781.4 521.5,781.6 526.5,781.5 531.5,782.2 536.5,783 541.5,783.6 546.5,783.6 551.5,783.5 556.5,783.9 561.5,784.3 566.5,784.1 571.5,784.3 576.5,784.7 581.5,785 586.5,784.7 591.5,784.4 596.5,784.4 601.5,783.5 606.5,782.6 611.5,781.7 616.5,780.5 621.5,779.5 626.5,778.3 631.5,776.7 636.5,773.9 641.5,771.8 646.5,768.1 651.5,765.8 656.5,763.5 661.5,760.6 666.5,758 671.5,755.3 676.5,753.2 681.5,750.9 686.5,747.1 691.5,744.8 696.5,743.9 701.5,740.9 706.5,737.6 711.5,732.9 716.5,728.4 721.5,722.8 726.5,714.8 731.5,705.9 736.5,703.9 741.5,699.9 746.5,692.5 751.5,686.9 756.5,680.5 761.5,680.3 766.5,680.6 771.5,677.5 776.5,676.5 781.5,674.2 786.5,667.8 791.5,664.8 796.5,664.7 801.5,665.8 806.5,668.4 811.5,668.2 816.5,669.5 821.5,673.4 826.5,674.4 831.5,680.2 836.5,685.3 841.5,686.7 846.5,687.6 851.5,688.4 856.5,686.8 861.5,682.9 866.5,677.9 871.5,672.9 876.5,668.6 881.5,664.3 886.5,663.1 891.5,663.3 896.5,666.2 901.5,667.2 906.5,666.7 911.5,668.3 916.5,670 921.5,672.7 926.5,677.9 931.5,681.6 936.5,683 941.5,684.3 946.5,684.1 951.5,684.5" fill="none" stroke="#00008b" stroke-width="1.3" stroke-linejoin="round"/>
<polyline points="41.5,763.4 46.5,764 51.5,763.9 56.5,771.9 61.5,770.1 66.5,770.6 71.5,772.9 76.5,772.9 81.5,772.9 86.5,771.7 91.5,773.9 96.5,769.8 101.5,768.9 106.5,771.9 111.5,778.2 116.5,778.6 121.5,779.1 126.5,778.2 131.5,777.1 136.5,778.9 141.5,779.4 146.5,781 151.5,780.7 156.5,779 161.5,777.4 166.5,782.7 171.5,784.8 176.5,782.8 181.5,784.7 186.5,780.4 191.5,781.3 196.5,781.3 201.5,785.9 206.5,785.2 211.5,786.1 216.5,790.1 221.5,789.5 226.5,788.1 231.5,786.4 236.5,783.7 241.5,785.1 246.5,780.8 251.5,780.6 256.5,782.4 261.5,784.8 266.5,785.7 271.5,780.1 276.5,778.9 281.5,777.4 286.5,783.5 291.5,769.7 296.5,770.9 301.5,770.7 306.5,768 311.5,770.4 316.5,776.2 321.5,776.9 326.5,776.4 331.5,773.4 336.5,775.3 341.5,771.5 346.5,772.5 351.5,772.9 356.5,776.4 361.5,768.6 366.5,770.2 371.5,768.6 376.5,769.5 381.5,763.1 386.5,766.2 391.5,763.4 396.5,770.9 401.5,764.9 406.5,764.1 411.5,758.5 416.5,755.8 421.5,755.9 426.5,765.4 431.5,765.6 436.5,768.5 441.5,771.2 446.5,776.5 451.5,776.1 456.5,770 461.5,771.6 466.5,767.7 471.5,774.1 476.5,776.5 481.5,771.3 486.5,772 491.5,770 496.5,776.4 501.5,779 506.5,776.3 511.5,778 516.5,779.5 521.5,776.3 526.5,775.3 531.5,778.8 536.5,780.9 541.5,776.9 546.5,776.2 551.5,778.5 556.5,780.3 561.5,783.1 566.5,776.9 571.5,778.4 576.5,780.5 581.5,781.5 586.5,777.8 591.5,774 596.5,775.8 601.5,768.3 606.5,770.9 611.5,772.4 616.5,764.2 621.5,767 626.5,767.4 631.5,763.7 636.5,746.8 641.5,750.7 646.5,733.7 651.5,742.8 656.5,745.7 661.5,740.7 666.5,735.1 671.5,736.9 676.5,743.9 681.5,738.3 686.5,704.7 691.5,725 696.5,724 701.5,708.5 706.5,709.1 711.5,689.4 716.5,684.5 721.5,674.5 726.5,655.9 731.5,639.4 736.5,681.8 741.5,681.1 746.5,641.1 751.5,646.4 756.5,638.5 761.5,687.2 766.5,686.9 771.5,640.3 776.5,645.2 781.5,613.7 786.5,610.7 791.5,648.1 796.5,639.4 801.5,659.7 806.5,667.2 811.5,684.6 816.5,701.7 821.5,682.8 826.5,656.8 831.5,678.6 836.5,667.2 841.5,663.6 846.5,649.5 851.5,667.8 856.5,649.5 861.5,641.7 866.5,646.4 871.5,626.8 876.5,609 881.5,631.2 886.5,654 891.5,665.2 896.5,681.4 901.5,679.3 906.5,643.8 911.5,659.7 916.5,665.2 921.5,656.8 926.5,667.2 931.5,672 936.5,670.1 941.5,679.6 946.5,679 951.5,683.5" fill="none" stroke="#111" stroke-width="1.05"/>
</g>
<rect x="43.5" y="598.5" width="915.0" height="205.0" fill="none" stroke="#b4b4b4" stroke-width="1" shape-rendering="crispEdges"/>
<line x1="958.5" x2="961.5" y1="779.5" y2="779.5" stroke="#b4b4b4" shape-rendering="crispEdges"/>
<text x="962" y="783.5" font-size="10" fill="#000">20</text>
<line x1="958.5" x2="961.5" y1="751.5" y2="751.5" stroke="#b4b4b4" shape-rendering="crispEdges"/>
<text x="962" y="755.3" font-size="10" fill="#000">30</text>
<line x1="958.5" x2="961.5" y1="723.5" y2="723.5" stroke="#b4b4b4" shape-rendering="crispEdges"/>
<text x="962" y="727.2" font-size="10" fill="#000">40</text>
<line x1="958.5" x2="961.5" y1="695.5" y2="695.5" stroke="#b4b4b4" shape-rendering="crispEdges"/>
<text x="962" y="699" font-size="10" fill="#000">50</text>
<line x1="958.5" x2="961.5" y1="666.5" y2="666.5" stroke="#b4b4b4" shape-rendering="crispEdges"/>
<text x="962" y="670.8" font-size="10" fill="#000">60</text>
<line x1="958.5" x2="961.5" y1="638.5" y2="638.5" stroke="#b4b4b4" shape-rendering="crispEdges"/>
<text x="962" y="642.6" font-size="10" fill="#000">70</text>
<line x1="958.5" x2="961.5" y1="610.5" y2="610.5" stroke="#b4b4b4" shape-rendering="crispEdges"/>
<text x="962" y="614.5" font-size="10" fill="#000">80</text>
<rect x="44.5" y="600.3" width="118" height="10.5" fill="#fff"/>
<line x1="46.5" x2="54.5" y1="605.5" y2="605.5" stroke="#000" stroke-width="2"/>
<text x="59" y="609.1" font-size="10" fill="#000" textLength="101" lengthAdjust="spacing">$VIX (Daily) 54.28</text>
<rect x="44.5" y="611.1" width="130" height="10.5" fill="#fff"/>
<line x1="46.5" x2="54.5" y1="616.3" y2="616.3" stroke="#00008b" stroke-width="2"/>
<text x="56.5" y="619.9" font-size="10" fill="#00008b" textLength="117" lengthAdjust="spacing">ENV(10,10.0) 53.91 - 65.89</text>
<rect x="44.5" y="621.6" width="95" height="10.5" fill="#fff"/>
<text x="57" y="630.4" font-size="10" fill="#000" textLength="80" lengthAdjust="spacing">$VIX (Daily) 54.28</text>
<rect x="44.5" y="631.6" width="130" height="10.5" fill="#fff"/>
<line x1="46.5" x2="54.5" y1="636.8" y2="636.8" stroke="#ff0000" stroke-width="2"/>
<text x="56" y="640.4" font-size="10" fill="#ff0000" textLength="117" lengthAdjust="spacing">ENV(10,20.0) 47.92 - 71.88</text>
<g shape-rendering="crispEdges" stroke-width="1"><line x1="51.5" x2="51.5" y1="803.5" y2="950.5" stroke="rgba(0,0,0,0.135)"/><line x1="76.5" x2="76.5" y1="803.5" y2="950.5" stroke="rgba(0,0,0,0.135)"/><line x1="101.5" x2="101.5" y1="803.5" y2="950.5" stroke="rgba(0,0,0,0.135)"/><line x1="126.5" x2="126.5" y1="803.5" y2="950.5" stroke="rgba(0,0,0,0.135)"/><line x1="151.5" x2="151.5" y1="803.5" y2="950.5" stroke="rgba(0,0,0,0.135)"/><line x1="176.5" x2="176.5" y1="803.5" y2="950.5" stroke="rgba(0,0,0,0.135)"/><line x1="201.5" x2="201.5" y1="803.5" y2="950.5" stroke="rgba(0,0,0,0.135)"/><line x1="226.5" x2="226.5" y1="803.5" y2="950.5" stroke="rgba(0,0,0,0.135)"/><line x1="251.5" x2="251.5" y1="803.5" y2="950.5" stroke="rgba(0,0,0,0.135)"/><line x1="296.5" x2="296.5" y1="803.5" y2="950.5" stroke="rgba(0,0,0,0.135)"/><line x1="321.5" x2="321.5" y1="803.5" y2="950.5" stroke="rgba(0,0,0,0.135)"/><line x1="346.5" x2="346.5" y1="803.5" y2="950.5" stroke="rgba(0,0,0,0.135)"/><line x1="371.5" x2="371.5" y1="803.5" y2="950.5" stroke="rgba(0,0,0,0.135)"/><line x1="391.5" x2="391.5" y1="803.5" y2="950.5" stroke="rgba(0,0,0,0.135)"/><line x1="416.5" x2="416.5" y1="803.5" y2="950.5" stroke="rgba(0,0,0,0.135)"/><line x1="441.5" x2="441.5" y1="803.5" y2="950.5" stroke="rgba(0,0,0,0.135)"/><line x1="466.5" x2="466.5" y1="803.5" y2="950.5" stroke="rgba(0,0,0,0.135)"/><line x1="491.5" x2="491.5" y1="803.5" y2="950.5" stroke="rgba(0,0,0,0.135)"/><line x1="516.5" x2="516.5" y1="803.5" y2="950.5" stroke="rgba(0,0,0,0.135)"/><line x1="541.5" x2="541.5" y1="803.5" y2="950.5" stroke="rgba(0,0,0,0.135)"/><line x1="566.5" x2="566.5" y1="803.5" y2="950.5" stroke="rgba(0,0,0,0.135)"/><line x1="611.5" x2="611.5" y1="803.5" y2="950.5" stroke="rgba(0,0,0,0.135)"/><line x1="636.5" x2="636.5" y1="803.5" y2="950.5" stroke="rgba(0,0,0,0.135)"/><line x1="661.5" x2="661.5" y1="803.5" y2="950.5" stroke="rgba(0,0,0,0.135)"/><line x1="686.5" x2="686.5" y1="803.5" y2="950.5" stroke="rgba(0,0,0,0.135)"/><line x1="711.5" x2="711.5" y1="803.5" y2="950.5" stroke="rgba(0,0,0,0.135)"/><line x1="736.5" x2="736.5" y1="803.5" y2="950.5" stroke="rgba(0,0,0,0.135)"/><line x1="761.5" x2="761.5" y1="803.5" y2="950.5" stroke="rgba(0,0,0,0.135)"/><line x1="786.5" x2="786.5" y1="803.5" y2="950.5" stroke="rgba(0,0,0,0.135)"/><line x1="836.5" x2="836.5" y1="803.5" y2="950.5" stroke="rgba(0,0,0,0.135)"/><line x1="861.5" x2="861.5" y1="803.5" y2="950.5" stroke="rgba(0,0,0,0.135)"/><line x1="886.5" x2="886.5" y1="803.5" y2="950.5" stroke="rgba(0,0,0,0.135)"/><line x1="931.5" x2="931.5" y1="803.5" y2="950.5" stroke="rgba(0,0,0,0.135)"/><line x1="56.5" x2="56.5" y1="803.5" y2="950.5" stroke="rgba(0,0,0,0.25)"/><line x1="166.5" x2="166.5" y1="803.5" y2="950.5" stroke="rgba(0,0,0,0.25)"/><line x1="271.5" x2="271.5" y1="803.5" y2="950.5" stroke="rgba(0,0,0,0.25)"/><line x1="376.5" x2="376.5" y1="803.5" y2="950.5" stroke="rgba(0,0,0,0.25)"/><line x1="486.5" x2="486.5" y1="803.5" y2="950.5" stroke="rgba(0,0,0,0.25)"/><line x1="591.5" x2="591.5" y1="803.5" y2="950.5" stroke="rgba(0,0,0,0.25)"/><line x1="696.5" x2="696.5" y1="803.5" y2="950.5" stroke="rgba(0,0,0,0.25)"/><line x1="811.5" x2="811.5" y1="803.5" y2="950.5" stroke="rgba(0,0,0,0.25)"/><line x1="906.5" x2="906.5" y1="803.5" y2="950.5" stroke="rgba(0,0,0,0.25)"/></g>
<g shape-rendering="crispEdges" stroke-width="1" stroke="rgba(0,0,0,0.135)"><line x1="43.5" x2="958.5" y1="940.5" y2="940.5"/><line x1="43.5" x2="958.5" y1="927.5" y2="927.5"/><line x1="43.5" x2="958.5" y1="914.5" y2="914.5"/><line x1="43.5" x2="958.5" y1="901.5" y2="901.5"/><line x1="43.5" x2="958.5" y1="888.5" y2="888.5"/><line x1="43.5" x2="958.5" y1="875.5" y2="875.5"/><line x1="43.5" x2="958.5" y1="862.5" y2="862.5"/><line x1="43.5" x2="958.5" y1="849.5" y2="849.5"/><line x1="43.5" x2="958.5" y1="836.5" y2="836.5"/><line x1="43.5" x2="958.5" y1="823.5" y2="823.5"/><line x1="43.5" x2="958.5" y1="810.5" y2="810.5"/></g>
<g shape-rendering="crispEdges" stroke-width="1" stroke="#666"><line x1="43.5" x2="958.5" y1="849.5" y2="849.5"/><line x1="43.5" x2="958.5" y1="901.5" y2="901.5"/></g>
<line x1="43.5" x2="958.5" y1="875.5" y2="875.5" stroke="#666" stroke-dasharray="9 2 2 2" shape-rendering="crispEdges"/>
<g clip-path="url(#c4)"><path d="M635.2 849.5 L636.5 845.6 L639.9 849.5Z M642.4 849.5 L646.5 841.3 L650 849.5Z M683.6 849.5 L686.5 840.6 L688.8 849.5Z M708.7 849.5 L711.5 845.6 L716.5 843.3 L721.5 840.6 L726.5 836.3 L731.5 832.6 L734.5 849.5Z " fill="rgba(0,55,0,0.53)"/></g>
<g clip-path="url(#c4)"><path d="" fill="rgba(90,0,0,0.53)"/></g>
<g clip-path="url(#c4)"><polyline points="43.5,876.9 46.5,877.2 51.5,878.2 56.5,886.4 61.5,884.4 66.5,884.4 71.5,887.7 76.5,887.7 81.5,887.7 86.5,885.7 91.5,888.2 96.5,880.7 101.5,878.4 106.5,883.2 111.5,890.9 116.5,891.4 121.5,892.2 126.5,890.7 131.5,888.4 136.5,890.2 141.5,891.4 146.5,893.4 151.5,893.4 156.5,888.9 161.5,884.4 166.5,893.4 171.5,896.5 176.5,890.7 181.5,893.4 186.5,883.4 191.5,884.4 196.5,884.4 201.5,892.2 206.5,891.4 211.5,892.2 216.5,898.2 221.5,896.5 226.5,892.7 231.5,887.7 236.5,880.7 241.5,883.2 246.5,873.4 251.5,872.7 256.5,876.4 261.5,882.2 266.5,884.4 271.5,870.2 276.5,868.1 281.5,865.6 286.5,877.7 291.5,857.6 296.5,860.6 301.5,859.4 306.5,856.4 311.5,861.4 316.5,872.2 321.5,873.4 326.5,872.2 331.5,867.6 336.5,870.9 341.5,865.6 346.5,866.4 351.5,868.4 356.5,875.2 361.5,862.6 366.5,865.1 371.5,863.4 376.5,865.1 381.5,856.4 386.5,862.1 391.5,859.6 396.5,872.2 401.5,864.6 406.5,863.1 411.5,857.1 416.5,854.4 421.5,854.4 426.5,870.9 431.5,871.4 436.5,875.2 441.5,879.7 446.5,886.4 451.5,885.2 456.5,876.4 461.5,878.2 466.5,872.7 471.5,880.9 476.5,883.2 481.5,876.4 486.5,878.2 491.5,874.7 496.5,883.2 501.5,886.4 506.5,881.4 511.5,883.2 516.5,885.2 521.5,880.7 526.5,878.9 531.5,883.2 536.5,886.4 541.5,879.7 546.5,877.2 551.5,880.9 556.5,884.4 561.5,888.4 566.5,877.2 571.5,879.4 576.5,882.2 581.5,883.4 586.5,877.2 591.5,870.2 596.5,873.2 601.5,862.1 606.5,867.1 611.5,869.4 616.5,859.4 621.5,864.4 626.5,864.4 631.5,860.1 636.5,845.6 641.5,851.4 646.5,841.3 651.5,853.1 656.5,857.6 661.5,853.4 666.5,850.1 671.5,852.6 676.5,860.6 681.5,855.9 686.5,840.6 691.5,859.6 696.5,858.4 701.5,851.4 706.5,852.6 711.5,845.6 716.5,843.3 721.5,840.6 726.5,836.3 731.5,832.6 736.5,860.6 741.5,859.4 746.5,850.1 751.5,851.4 756.5,849.6 761.5,870.2 766.5,870.2 771.5,858.4 776.5,860.6 781.5,853.4 786.5,852.1 791.5,866.4 796.5,864.4 801.5,870.2 806.5,873.4 811.5,878.4 816.5,882.2 821.5,876.4 826.5,869.4 831.5,875.2 836.5,872.2 841.5,870.9 846.5,867.1 851.5,873.4 856.5,868.4 861.5,866.4 866.5,867.6 871.5,862.6 876.5,858.4 881.5,867.6 886.5,874.7 891.5,878.2 896.5,881.9 901.5,880.7 906.5,870.2 911.5,874.7 916.5,876.4 921.5,874.4 926.5,877.2 931.5,878.2 936.5,878.4 941.5,881.4 946.5,881.4 951.5,882.7" fill="none" stroke="#111" stroke-width="1.15"/></g>
<rect x="43.5" y="803.5" width="915.0" height="144.0" fill="none" stroke="#b4b4b4" stroke-width="1" shape-rendering="crispEdges"/>
<line x1="958.5" x2="961.5" y1="823.5" y2="823.5" stroke="#b4b4b4" shape-rendering="crispEdges"/>
<text x="962" y="826.9" font-size="10" fill="#000">90</text>
<line x1="958.5" x2="961.5" y1="849.5" y2="849.5" stroke="#b4b4b4" shape-rendering="crispEdges"/>
<text x="962" y="853" font-size="10" fill="#000">70</text>
<line x1="958.5" x2="961.5" y1="875.5" y2="875.5" stroke="#b4b4b4" shape-rendering="crispEdges"/>
<text x="962" y="879.3" font-size="10" fill="#000">50</text>
<line x1="958.5" x2="961.5" y1="901.5" y2="901.5" stroke="#b4b4b4" shape-rendering="crispEdges"/>
<text x="962" y="905.1" font-size="10" fill="#000">30</text>
<line x1="958.5" x2="961.5" y1="927.5" y2="927.5" stroke="#b4b4b4" shape-rendering="crispEdges"/>
<text x="962" y="930.9" font-size="10" fill="#000">10</text>
<rect x="44.5" y="804.5" width="90" height="12" fill="#fff"/>
<path d="M46.2 814.2 l0 -3.6 l3.4 -4.8 l1.7 3.4 l2 -2.6 l1.5 2.6 l0 5z" fill="rgba(0,55,0,0.55)"/><path d="M46.2 810.6 l3.4 -4.8 l1.7 3.4 l2 -2.6 l1.5 2.6 l0 4.5" fill="none" stroke="#111" stroke-width="1.1"/>
<text x="59" y="814.5" font-size="10" textLength="78" lengthAdjust="spacing">RSI(14) 44.03</text>
<line x1="785.8" x2="990" y1="882.5" y2="882.5" stroke="#ff0000" stroke-width="1.3" shape-rendering="crispEdges"/>
<polygon points="816.4,884 824.3,891.5 820.5,891.5 820.5,899 812.3,899 812.3,891.5 808.5,891.5" fill="#ff0000"/>
<polygon points="895.6,884 903.5,891.5 899.7,891.5 899.7,899 891.5,899 891.5,891.5 887.7,891.5" fill="#ff0000"/>
<polygon points="950.7,884 958.6,891.5 954.8,891.5 954.8,899 946.6,899 946.6,891.5 942.8,891.5" fill="#ff0000"/>
<rect x="885.1" y="34.1" width="62.0" height="14.0" fill="#000"/>
<rect x="883.5" y="32.5" width="62.0" height="14.0" fill="#fff" stroke="#8c8c8c" stroke-width="1"/>
<polygon points="939.5,46.5 946.8,133.5 945.5,34" fill="#fff"/>
<line x1="939.5" y1="46.5" x2="946.8" y2="133.5" stroke="#9a9a9a" stroke-width="1.2"/>
<line x1="946.1" y1="34" x2="947.0999999999999" y2="133.5" stroke="#000" stroke-width="1.8"/>
<text x="886.5" y="43.2" font-size="11.5" font-weight="bold" fill="#ff0000" textLength="52.5" lengthAdjust="spacingAndGlyphs">Oversold.</text>
<rect x="600.1" y="192.1" width="117.0" height="28.0" fill="#000"/>
<rect x="598.5" y="190.5" width="117.0" height="28.0" fill="#fff" stroke="#8c8c8c" stroke-width="1"/>
<polygon points="710,190.5 771.7,196.6 715.5,197" fill="#fff"/>
<line x1="710" y1="190.5" x2="771.7" y2="196.6" stroke="#9a9a9a" stroke-width="1.2"/>
<line x1="716.1" y1="197" x2="772.0" y2="196.6" stroke="#000" stroke-width="1.8"/>
<text x="601.0" y="200.8" font-size="11.5" font-weight="bold" fill="#008000" textLength="89" lengthAdjust="spacingAndGlyphs">Possible Double</text>
<text x="601.0" y="214.8" font-size="11.5" font-weight="bold" fill="#008000" textLength="104.7" lengthAdjust="spacingAndGlyphs">Top in the forming.</text>
<rect x="840.1" y="342.1" width="95.0" height="97.5" fill="#000"/>
<rect x="838.5" y="340.5" width="95.0" height="97.5" fill="#fff" stroke="#8c8c8c" stroke-width="1"/>
<polygon points="928,340.5 936.8,303.5 933.5,342" fill="#fff"/>
<line x1="928" y1="340.5" x2="936.8" y2="303.5" stroke="#9a9a9a" stroke-width="1.2"/>
<line x1="934.1" y1="342" x2="937.0999999999999" y2="303.5" stroke="#000" stroke-width="1.8"/>
<text x="841.0" y="350.7" font-size="11.5" font-weight="bold" fill="#ff0000">Symmetrical</text>
<text x="841.0" y="364.7" font-size="11.5" font-weight="bold" fill="#ff0000">Triangle? 75%</text>
<text x="841.0" y="378.7" font-size="11.5" font-weight="bold" fill="#ff0000">chances of</text>
<text x="841.0" y="392.7" font-size="11.5" font-weight="bold" fill="#ff0000">breakout on the</text>
<text x="841.0" y="406.7" font-size="11.5" font-weight="bold" fill="#ff0000">upside which is</text>
<text x="841.0" y="420.7" font-size="11.5" font-weight="bold" fill="#ff0000">very bad for the</text>
<text x="841.0" y="434.7" font-size="11.5" font-weight="bold" fill="#ff0000">stock market.</text>
<rect x="785.1" y="725.1" width="137.0" height="14.0" fill="#000"/>
<rect x="783.5" y="723.5" width="137.0" height="14.0" fill="#fff" stroke="#8c8c8c" stroke-width="1"/>
<polygon points="914,723.5 942.4,708.5 920.5,729" fill="#fff"/>
<line x1="914" y1="723.5" x2="942.4" y2="708.5" stroke="#9a9a9a" stroke-width="1.2"/>
<line x1="921.1" y1="729" x2="942.6999999999999" y2="708.5" stroke="#000" stroke-width="1.8"/>
<text x="786.3" y="734" font-size="11.5" font-weight="bold" fill="#ff0000" textLength="127.3" lengthAdjust="spacingAndGlyphs">Very close to oversold.</text>
<ellipse cx="954.2" cy="689.7" rx="17.7" ry="21.7" fill="none" stroke="#ff0000" stroke-width="1.1"/>
</svg></body></html>
